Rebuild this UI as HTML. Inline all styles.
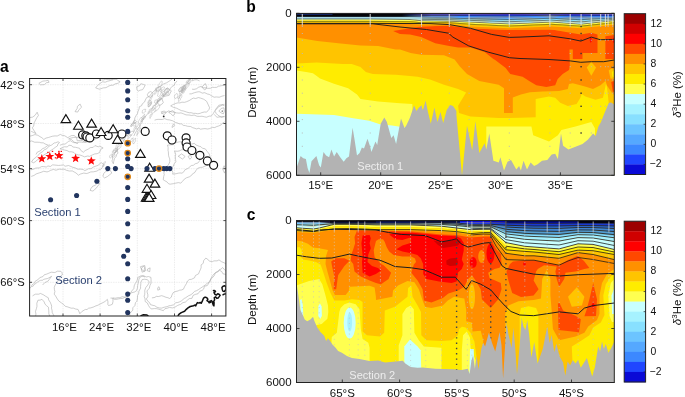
<!DOCTYPE html>
<html><head><meta charset="utf-8"><title>Figure</title>
<style>
html,body{margin:0;padding:0;background:#fff;}
svg{display:block;}
text{font-family:"Liberation Sans",sans-serif;font-size:10.7px;fill:#111;}
.b{font-weight:bold;font-size:15.6px;fill:#000;}
.ax{font-size:11.5px;}
.cbl{font-size:10.4px;}
.nv{fill:#2b4170;}
</style></head><body>
<svg width="685" height="397" viewBox="0 0 685 397">
<rect width="685" height="397" fill="#fff"/>
<clipPath id="ca"><rect x="29.6" y="78.5" width="196.3" height="237.5"/></clipPath>
<g clip-path="url(#ca)">
<line x1="63" x2="63" y1="78.5" y2="316" stroke="#d6d6d6" stroke-width="0.6" stroke-dasharray="0.8,0.9"/>
<line x1="100.1" x2="100.1" y1="78.5" y2="316" stroke="#d6d6d6" stroke-width="0.6" stroke-dasharray="0.8,0.9"/>
<line x1="137.3" x2="137.3" y1="78.5" y2="316" stroke="#d6d6d6" stroke-width="0.6" stroke-dasharray="0.8,0.9"/>
<line x1="174.5" x2="174.5" y1="78.5" y2="316" stroke="#d6d6d6" stroke-width="0.6" stroke-dasharray="0.8,0.9"/>
<line x1="211.6" x2="211.6" y1="78.5" y2="316" stroke="#d6d6d6" stroke-width="0.6" stroke-dasharray="0.8,0.9"/>
<line x1="29.6" x2="225.9" y1="84.7" y2="84.7" stroke="#d6d6d6" stroke-width="0.6" stroke-dasharray="0.8,0.9"/>
<line x1="29.6" x2="225.9" y1="123.5" y2="123.5" stroke="#d6d6d6" stroke-width="0.6" stroke-dasharray="0.8,0.9"/>
<line x1="29.6" x2="225.9" y1="168.7" y2="168.7" stroke="#d6d6d6" stroke-width="0.6" stroke-dasharray="0.8,0.9"/>
<line x1="29.6" x2="225.9" y1="220.6" y2="220.6" stroke="#d6d6d6" stroke-width="0.6" stroke-dasharray="0.8,0.9"/>
<line x1="29.6" x2="225.9" y1="282.3" y2="282.3" stroke="#d6d6d6" stroke-width="0.6" stroke-dasharray="0.8,0.9"/>
<path d="M38.85 83.31 L42.81 81.1 L45.75 80.81 L48.18 80.31 L49.05 82.31 L46.45 82.73 L44.29 84.66 L40.37 84.81 Z" fill="none" stroke="#a6a6a6" stroke-width="0.55" stroke-linejoin="round"/>
<path d="M95.68 87.93 L97.37 85.69 L99.7 83.73 L101.3 82.61 L102.64 81.8 L105.2 82.21 L107.35 81.31 L110.19 80.57 L112.27 79.69 L113.78 79.44 L116.85 79.3 L118.14 80.82 L120.13 81.72 L118.25 83.18 L115.11 83.9 L113.14 85.23 L111.09 85.27 L109.11 85.9 L105.99 87.66 L103.25 87.88 L100.72 88.74 L99.37 89.2 Z" fill="none" stroke="#a6a6a6" stroke-width="0.55" stroke-linejoin="round"/>
<path d="M101.33 80.04 L103.41 79.97 L105.58 79.31 L108.28 79.52 L110.41 79.63 L113.1 79.9" fill="none" stroke="#a6a6a6" stroke-width="0.55" stroke-linejoin="round"/>
<path d="M29.68 117.58 L32.71 117.09 L35.15 115.2 L37.14 112.24 L38.43 115.45 L36.89 117.61 L34.98 121.18 L34.18 122.81 L33.65 126.05 L32.31 127.83 L34.32 131.04 L36.05 133.61 L33.09 132.13 L31.2 131.4" fill="none" stroke="#a6a6a6" stroke-width="0.55" stroke-linejoin="round"/>
<path d="M75 111.64 L77.19 108.41 L77.45 106.32 L80.13 104.08 L81.52 107.27 L78.96 109.69 L77.72 112.09 Z" fill="none" stroke="#a6a6a6" stroke-width="0.55" stroke-linejoin="round"/>
<path d="M30.03 136.07 L32.06 135.66 L34.91 134.58 L37.86 135.29 L40.19 136.78 L41.88 137.69 L43.84 139.49 L45.99 138.04 L48.39 137.53 L50.78 136.72 L52.5 136.21 L54.98 135.91 L57.2 136.02 L60.36 134.41 L62.22 135.39 L64.74 135.77 L67.79 137.69 L69.59 136.58 L71.39 135.64 L74.08 135.47 L76.56 137.53 L77.23 140.83 L80.27 140.31 L82.63 140.74 L84.94 142.67 L88.06 141.6 L89.87 140.46 L92.38 140.36 L95.5 139.3" fill="none" stroke="#a6a6a6" stroke-width="0.55" stroke-linejoin="round"/>
<path d="M29.45 141.49 L31.59 140.94 L34.69 142.23 L37.17 142.2 L39.55 142.34 L40.92 142.77 L43.3 142.84 L45.04 143.94 L47.9 145" fill="none" stroke="#a6a6a6" stroke-width="0.55" stroke-linejoin="round"/>
<path d="M59.86 145.27 L62.96 144.15 L65.05 144.12 L67.2 142.47 L68.29 141.5 L70.38 140.69 L73.34 142.53 L76.01 142.8 L77.9 143.7" fill="none" stroke="#a6a6a6" stroke-width="0.55" stroke-linejoin="round"/>
<path d="M138.94 124.96 L139.79 124.97 L139.7 126.59 L139.3 127.3 L138.48 128.13 L137.46 129.07 L137.07 128.78 L136.52 128.84 L135.91 128.9 L136.1 127.47 L136.54 127.19 L137.44 125.86 L138.5 124.84 L139.11 124.35 Z" fill="none" stroke="#adadad" stroke-width="0.45"/>
<path d="M160.91 89 L161.8 88.93 L161.59 90.51 L161.2 92.34 L160.53 94.31 L159.9 95.67 L159.03 96.49 L158.38 96.5 L157.35 95.81 L157.93 94.55 L158.09 92.7 L158.53 91.01 L159.73 89.51 L160.12 88.97 Z" fill="none" stroke="#adadad" stroke-width="0.45"/>
<path d="M167.76 91.95 L168.84 92.1 L168.46 93.29 L168.38 94.07 L168.22 94.55 L167.74 94.33 L166.96 94.4 L166.05 95.13 L165.37 94.56 L165.66 93.72 L165.33 92.99 L166.28 91.81 L167.27 91.48 L167.37 91.65 Z" fill="none" stroke="#adadad" stroke-width="0.45"/>
<path d="M152.51 107.82 L152.51 108.87 L151.91 109.8 L151.85 110.49 L150.41 111.77 L149.67 113.03 L148.59 113.85 L148.07 113.09 L148.11 112.71 L148.33 111.66 L149.19 110.63 L149.29 109.72 L151.16 108.68 L151.48 108.31 Z" fill="none" stroke="#adadad" stroke-width="0.45"/>
<path d="M151.19 101.88 L151.55 102.65 L151.14 103.64 L150.95 103.92 L150.41 105.53 L149.38 106.12 L149.17 106.6 L148.33 106.79 L148.57 106.36 L148.75 105.51 L148.68 104.58 L149.84 103.37 L150.01 102.49 L150.64 102.41 Z" fill="none" stroke="#adadad" stroke-width="0.45"/>
<path d="M140.68 127.69 L140.58 128.09 L139.93 129.77 L139.6 130.66 L138.65 132.69 L137.81 133.98 L137.15 134.33 L136.75 135.6 L137.1 134.35 L137.18 133.63 L137.59 131.47 L138.71 130.25 L139.35 128.86 L139.8 128.26 Z" fill="none" stroke="#adadad" stroke-width="0.45"/>
<path d="M134.84 122.45 L135.33 122.46 L135.05 123.16 L133.6 124.04 L132.81 125.05 L131.74 126.46 L130.95 126.65 L130.85 126.44 L130.22 126.22 L131.1 125.09 L131.76 124.03 L132.45 123.48 L133.69 122 L134.88 121.91 Z" fill="none" stroke="#adadad" stroke-width="0.45"/>
<path d="M164.19 94.08 L164.74 94.52 L164.82 94.98 L164.56 95.09 L163.65 96.15 L163.07 96.35 L163.47 96.14 L162.2 96.34 L162 95.62 L162.19 95.16 L162.48 94.26 L162.66 94.04 L163.32 93.93 L164.24 93.41 Z" fill="none" stroke="#adadad" stroke-width="0.45"/>
<path d="M129.7 132.13 L129.88 132.31 L129.55 133.34 L129.2 133.98 L128.43 134.87 L127.29 135.87 L126.57 135.58 L126.02 135.8 L126.39 135.17 L126.22 134.72 L126.71 133.18 L127.2 132.5 L128.59 131.86 L129.49 131.6 Z" fill="none" stroke="#adadad" stroke-width="0.45"/>
<path d="M158.49 100.29 L158.92 100.04 L158.18 101.45 L158.03 101.95 L157.04 104.05 L156.24 104.93 L155.87 105.07 L155.49 104.83 L155.07 104.32 L155.67 103.7 L156.08 102.48 L157.41 101.65 L157.52 101 L158.8 100.22 Z" fill="none" stroke="#adadad" stroke-width="0.45"/>
<path d="M135.77 122.52 L136 123.02 L135.77 123.62 L135.86 124.8 L135.02 125.51 L134.06 126.2 L133.73 125.94 L132.94 125.86 L133 125.45 L132.36 124.71 L133.61 123.82 L133.87 123.02 L134.64 122.22 L135.07 122.37 Z" fill="none" stroke="#adadad" stroke-width="0.45"/>
<path d="M151.17 103.41 L151.54 103.95 L151.24 104.27 L150.37 105.17 L150.02 105.84 L148.97 106.46 L148.54 106.67 L147.98 106.65 L147.82 105.67 L148.07 105.06 L148.68 103.9 L149.23 103.55 L150.16 102.71 L151.08 102.99 Z" fill="none" stroke="#adadad" stroke-width="0.45"/>
<path d="M145.87 109.21 L145.36 110 L145.33 110.74 L145.61 111.53 L144.78 111.88 L144.04 112.46 L143.26 113.18 L142.13 112.97 L142.41 111.96 L142.3 111.7 L142.56 110.35 L143.19 110.05 L143.92 109.3 L145.12 109.36 Z" fill="none" stroke="#adadad" stroke-width="0.45"/>
<path d="M145.18 116.82 L145.4 116.21 L145.47 116.88 L145.22 117.86 L144.36 118.84 L144.07 119.1 L143.26 119.61 L143.26 118.95 L142.53 118.68 L142.74 118.24 L143.41 117.53 L143.56 116.79 L144.44 116.44 L144.83 116.69 Z" fill="none" stroke="#adadad" stroke-width="0.45"/>
<path d="M152.79 95.31 L152.78 95.98 L152.14 97.1 L151.12 98.83 L150.87 100.26 L149.82 101.85 L148.66 102.77 L148.59 103.19 L148.16 102.85 L148.8 101.61 L149.32 99.81 L150.41 98.17 L151.43 96.34 L152.1 95.27 Z" fill="none" stroke="#adadad" stroke-width="0.45"/>
<path d="M135.6 120.67 L136.37 121.27 L136.66 121.66 L135.91 122.29 L135.28 123.08 L134.88 123.54 L133.81 123.72 L133.51 122.93 L133.65 122.79 L133.45 121.75 L133.58 121.41 L134.37 120.91 L134.72 120.17 L135.63 120.05 Z" fill="none" stroke="#adadad" stroke-width="0.45"/>
<path d="M155.29 105.33 L155.45 105.7 L155.52 106.19 L155.65 107.12 L155.16 107.65 L155.08 107.7 L153.88 108.33 L153.23 107.38 L152.8 107.18 L152.69 106.91 L153.28 105.52 L153.86 105.21 L154.07 105.54 L155.03 105.18 Z" fill="none" stroke="#adadad" stroke-width="0.45"/>
<path d="M161.16 97.74 L161.34 98.44 L160.48 99.5 L159.98 100.49 L159.36 101.36 L158.85 101.51 L157.87 101.9 L157.09 101.62 L157.16 100.67 L157.16 100.48 L157.84 98.95 L158.49 98.5 L159.42 97.68 L159.83 97.95 Z" fill="none" stroke="#adadad" stroke-width="0.45"/>
<path d="M156.92 89.42 L156.84 89.7 L156.78 90.62 L156.5 91.35 L155.98 93.04 L155.69 93.75 L154.77 94.59 L154.28 94.29 L154.49 93.44 L154.4 93.48 L154.9 92.36 L155.22 90.89 L156.1 90.36 L156.81 89.56 Z" fill="none" stroke="#adadad" stroke-width="0.45"/>
<path d="M152.24 113.6 L151.88 114.21 L152.51 114.91 L151.56 115.6 L150.86 117.08 L150.32 117.72 L150.1 118.49 L149.8 117.65 L149.82 117.31 L150.08 116.89 L149.9 115.56 L150.46 115.36 L151.01 113.84 L151.73 114.19 Z" fill="none" stroke="#adadad" stroke-width="0.45"/>
<path d="M133.06 131.81 L133.71 132.04 L133.42 133 L132.47 133.74 L131.74 134.79 L130.79 134.87 L129.98 135.48 L129.74 134.95 L129.28 134.43 L129.42 133.91 L129.77 133.01 L131.21 131.84 L131.41 131.56 L132.95 131.08 Z" fill="none" stroke="#adadad" stroke-width="0.45"/>
<path d="M168.64 88.88 L168.79 89.73 L169.09 89.86 L168.31 91.21 L167.45 92.79 L166.27 93.07 L165.62 93.67 L164.9 92.84 L164.87 92.92 L164.77 91.8 L165.55 90.7 L166.5 89.6 L167.1 88.7 L167.72 88.66 Z" fill="none" stroke="#adadad" stroke-width="0.45"/>
<path d="M157.86 87.12 L158.31 87.98 L159.01 88.4 L159.03 89.31 L158.56 89.61 L157.97 90.32 L157.32 91.04 L156.84 90.45 L155.95 90.28 L155.88 89.48 L155.47 89.01 L155.77 87.93 L156.77 87.63 L157.33 87.56 Z" fill="none" stroke="#adadad" stroke-width="0.45"/>
<path d="M150.39 100.47 L150.82 101.24 L151.65 101.7 L151.54 102.88 L150.82 104.08 L149.7 104.71 L149.37 104.87 L148.39 104.6 L147.77 104.17 L148.06 103.26 L147.96 102.84 L147.95 101.65 L149.11 100.51 L150.05 100.46 Z" fill="none" stroke="#adadad" stroke-width="0.45"/>
<path d="M133.33 137.85 L132.97 138.43 L133.14 139.26 L132.57 140.26 L132.73 140.76 L132.38 141.39 L131.35 141.66 L130.48 142.25 L130.5 141.65 L130.47 140.79 L130.87 139.59 L131.56 139.24 L132 138.02 L132.64 138.29 Z" fill="none" stroke="#adadad" stroke-width="0.45"/>
<path d="M125.49 135.19 L126.26 135.09 L126.54 135.93 L125.74 136.93 L124.82 138.89 L124.43 139.8 L123.7 140.83 L123.01 140.81 L123.08 140.34 L122.82 139.09 L123.1 138.26 L124.07 136.55 L124.98 135.29 L124.97 135.07 Z" fill="none" stroke="#adadad" stroke-width="0.45"/>
<path d="M162.74 95.16 L163.18 96.16 L163.75 96.53 L162.88 97.92 L162.45 98.7 L161.1 99.63 L160.03 100 L159.45 100.37 L159.52 99.05 L159.16 98.48 L159.92 97.48 L160.8 96.45 L161.18 95.6 L162.34 94.95 Z" fill="none" stroke="#adadad" stroke-width="0.45"/>
<path d="M166.98 88.23 L167.1 88.83 L167.56 90.03 L166.79 92.23 L166.11 93.73 L165.76 94.88 L164.37 95.9 L163.83 95.85 L163.74 95.94 L163.39 94.61 L164.45 92.49 L164.54 91.16 L165.18 89.59 L166.53 88.86 Z" fill="none" stroke="#adadad" stroke-width="0.45"/>
<path d="M129.88 132.44 L129.9 132.84 L129.07 133.73 L129.1 133.62 L128.41 135.12 L127.87 135.77 L127.07 136.19 L127.21 135.43 L127.11 135.17 L127.61 134.7 L127.49 134.02 L128.04 133.98 L128.36 133.03 L129.62 132.41 Z" fill="none" stroke="#adadad" stroke-width="0.45"/>
<path d="M135.86 138.33 L135.52 138.64 L135.42 139.68 L135.69 140.92 L134.58 142.25 L134.79 142.75 L133.69 143.18 L133.41 144.07 L133.06 143.45 L132.59 142.5 L133.39 141.45 L133.98 139.73 L134.48 138.94 L135.1 138.29 Z" fill="none" stroke="#adadad" stroke-width="0.45"/>
<path d="M160.74 87.26 L161.05 87.1 L160.42 88.55 L159.96 90.23 L159.13 90.97 L157.37 91.51 L157.27 91.63 L156.6 91.26 L156.07 90.94 L155.91 90.12 L156.65 88.52 L157.87 87.45 L158.96 86.8 L159.83 86.64 Z" fill="none" stroke="#adadad" stroke-width="0.45"/>
<path d="M159.92 105.49 L159.63 105.83 L159.64 107.17 L158.49 108.69 L157.29 110.27 L155.77 110.97 L154.83 111.62 L154.22 111 L153.73 110.69 L153.84 109.65 L155.54 107.82 L156.36 107.04 L158.05 105.81 L158.84 104.94 Z" fill="none" stroke="#adadad" stroke-width="0.45"/>
<path d="M155.38 108.57 L155.83 109.12 L155.77 110.25 L155.55 110.88 L154.08 112.22 L153.5 112.9 L152.18 113.1 L151.74 112.86 L151.39 112.58 L152.08 110.98 L152.62 110.21 L153.53 109.22 L154.09 108.75 L154.88 108.82 Z" fill="none" stroke="#adadad" stroke-width="0.45"/>
<path d="M144.82 114.05 L144.29 115.07 L144.16 115.99 L143.9 117.19 L143 119.43 L142.28 120.67 L141.72 121.56 L140.79 121.79 L141.25 120.95 L140.95 120.52 L142.15 118.5 L142.03 117.15 L143.32 115.45 L144.5 114.27 Z" fill="none" stroke="#adadad" stroke-width="0.45"/>
<path d="M141.5 117.52 L142 117.84 L142.52 118.76 L141.78 120.25 L141.25 121.98 L140.75 122.49 L139.93 123.73 L139.09 123.27 L138.31 123.05 L138.43 121.34 L138.88 120.52 L139.53 119.42 L140.64 117.89 L141 117.26 Z" fill="none" stroke="#adadad" stroke-width="0.45"/>
<path d="M131.26 135.37 L131.47 134.91 L131.29 135.71 L130.1 136.9 L129.37 137.95 L129.01 138.47 L128.28 138.07 L127.75 138.49 L127.47 138.19 L128.05 137.69 L128.41 136.56 L129.25 136.04 L130.18 135.1 L130.91 134.69 Z" fill="none" stroke="#adadad" stroke-width="0.45"/>
<path d="M157.1 99.83 L157.44 100.17 L157.46 101.51 L157.49 101.54 L156.75 102.47 L156.53 102.91 L155.57 103.78 L155.09 102.83 L154.78 102.41 L154.4 102.47 L154.69 101.51 L154.91 100.3 L155.96 100.05 L156.44 99.74 Z" fill="none" stroke="#adadad" stroke-width="0.45"/>
<path d="M163.75 86.88 L164.52 87.25 L164.1 88.62 L163.66 89.05 L162.97 90.08 L161.55 90.71 L160.38 91.76 L160.15 90.95 L159.93 90.68 L160.12 90.04 L160.83 88.64 L161.52 88.09 L162.73 87.3 L163.32 86.92 Z" fill="none" stroke="#adadad" stroke-width="0.45"/>
<path d="M135.82 125.4 L135.93 125.76 L135.9 127.15 L136.06 127.71 L135.08 129.31 L134.25 130.86 L134.25 131.56 L133.82 131.94 L133.48 131.08 L133.87 130.5 L133.95 129.22 L134.35 127.49 L135.34 126.79 L135.91 125.45 Z" fill="none" stroke="#adadad" stroke-width="0.45"/>
<path d="M162.13 81.26 L162.3 81.89 L162.14 83.11 L161.67 84.38 L161.24 85.84 L160.3 86.58 L159.37 87.3 L158.64 87.21 L158.38 86.97 L158 85.84 L158.68 84.81 L159.49 83.36 L160.61 81.98 L161.48 80.9 Z" fill="none" stroke="#adadad" stroke-width="0.45"/>
<path d="M188.62 82.9 L189.07 84.42 L188.81 85.54 L187.35 87.31 L186.25 88.76 L184.82 89.45 L183.56 90.45 L183.47 90.03 L182.77 89.88 L183.01 88.53 L183.55 86.72 L185.37 84.72 L186.71 84.39 L187.93 82.97 Z" fill="none" stroke="#adadad" stroke-width="0.45"/>
<path d="M192.18 77.42 L191.93 77.45 L190.88 78.73 L189.63 80.08 L188.74 81.5 L187.33 82.8 L186.41 82.99 L186.33 82.8 L186.04 82.65 L186.71 81.19 L187.93 79.74 L189.45 79.04 L190.14 78.48 L191.25 77.51 Z" fill="none" stroke="#adadad" stroke-width="0.45"/>
<path d="M177.52 93.92 L177.73 94.09 L177.82 95.54 L177.59 96.09 L177.57 97.34 L176.44 97.84 L175.74 98.21 L175.11 98.87 L174.65 97.77 L174.57 96.96 L174.32 96.4 L174.56 95.42 L175.62 94.8 L176.4 93.45 Z" fill="none" stroke="#adadad" stroke-width="0.45"/>
<path d="M181.91 94.64 L181.81 95.15 L181.84 96.7 L181.12 97.99 L180.56 98.6 L180.27 100.17 L179.4 100.99 L178.44 101.51 L178.49 101.1 L178.42 99.81 L179.41 97.9 L179.82 96.34 L180.56 95.63 L180.99 94.74 Z" fill="none" stroke="#adadad" stroke-width="0.45"/>
<path d="M183.37 87.12 L183.22 87.83 L183.28 89.22 L182.82 89.69 L181.97 90.93 L180.75 91.6 L179.64 91.62 L178.85 91.35 L178.68 91.04 L178.82 89.65 L179.86 88.55 L180.28 87.51 L181.48 86.99 L182.68 86.8 Z" fill="none" stroke="#adadad" stroke-width="0.45"/>
<path d="M190.64 79.49 L190.47 80.38 L190.22 81.06 L189.52 82.61 L187.85 84.37 L186.63 86.1 L185.92 86.13 L185.34 86.55 L185 85.71 L185.74 84.68 L186.49 83.19 L187.82 81.8 L188.98 80.45 L189.28 79.9 Z" fill="none" stroke="#adadad" stroke-width="0.45"/>
<path d="M184.67 88.15 L184.83 88.36 L184.84 89.39 L184.37 90.31 L183.74 91.49 L183.2 92 L182.33 92.01 L181.78 91.55 L181.36 91.54 L181.35 90.61 L182.18 89.37 L182.54 89.16 L183.36 88.37 L184.31 87.84 Z" fill="none" stroke="#adadad" stroke-width="0.45"/>
<path d="M191.64 78.24 L192.31 78.85 L192.61 79.74 L191.5 80.98 L190.61 81.77 L189.47 83.53 L188.6 83.39 L188.36 83.59 L187.65 82.98 L187.63 82.03 L188.68 80.25 L189.83 79.32 L190.24 78.45 L191.53 77.79 Z" fill="none" stroke="#adadad" stroke-width="0.45"/>
<path d="M183.77 85.07 L184.23 85.67 L184.02 87.47 L183.07 88.62 L182.14 90.94 L181.58 92.43 L180.02 93.97 L179.81 94.51 L179.44 93.63 L179.83 92.09 L180.64 90.13 L181.41 88.59 L182.4 86.67 L183.2 85.49 Z" fill="none" stroke="#adadad" stroke-width="0.45"/>
<path d="M185.06 85.62 L185.98 86.12 L185.9 86.58 L185.04 88.55 L184.37 89.26 L183.65 89.92 L182.82 90.66 L181.82 90.45 L181.68 89.41 L181.84 89.16 L182.21 88.19 L183.12 86.38 L184 85.99 L184.86 84.78 Z" fill="none" stroke="#adadad" stroke-width="0.45"/>
<path d="M185 85.78 L184.64 86.57 L185.2 87.04 L184.27 88.34 L184.32 89.97 L183.55 90.88 L182.64 92.57 L182.1 92.54 L182.2 91.42 L181.71 91.05 L182.3 88.93 L182.94 87.85 L183.59 87.09 L183.86 86.28 Z" fill="none" stroke="#adadad" stroke-width="0.45"/>
<path d="M181.89 87.54 L181.95 88.44 L182.08 89.1 L181.85 89.6 L180.86 91.18 L180.16 91.61 L179.85 91.68 L179.21 91.37 L178.74 91.09 L178.92 90.47 L179.13 89.18 L179.69 88.75 L180.63 87.74 L181.56 87.75 Z" fill="none" stroke="#adadad" stroke-width="0.45"/>
<path d="M180.73 94.97 L180.65 94.89 L180.48 95.16 L180.03 96.05 L179.64 97.71 L178.9 97.66 L178.46 98.81 L178.34 98.33 L177.83 98.33 L177.9 97.36 L178.53 96.71 L178.99 95.78 L179.75 95.45 L180.57 94.63 Z" fill="none" stroke="#adadad" stroke-width="0.45"/>
<path d="M186.15 87.39 L185.79 88.35 L185.63 89.3 L185.65 90.21 L184.41 91.43 L183.77 93.07 L182.7 93.36 L181.81 93.36 L181.46 93.07 L181.94 91.94 L182.71 90.13 L183.32 89.39 L184.26 88.42 L185.31 87.85 Z" fill="none" stroke="#adadad" stroke-width="0.45"/>
<path d="M114.51 153.73 L114.59 154.45 L114.73 154.49 L114.97 155.69 L114.66 156.37 L113.64 157.03 L113.11 157.39 L112.88 156.57 L112.19 156.2 L111.78 155.46 L112.01 155.26 L112.4 154.05 L112.6 154.03 L113.35 153.69 Z" fill="none" stroke="#adadad" stroke-width="0.45"/>
<path d="M121.36 142.53 L121.54 143.44 L121.74 143.71 L121.16 145.44 L120.87 147.17 L119.21 148.41 L118.55 149.37 L117.51 149.31 L117.85 148.54 L117.51 147.29 L117.86 145.54 L118.65 144.15 L120.09 143.19 L120.51 142.87 Z" fill="none" stroke="#adadad" stroke-width="0.45"/>
<path d="M116.65 149.61 L117.36 149.55 L116.84 150.44 L116.36 151.69 L115.8 152.18 L114.33 152.49 L114.25 152.07 L113.26 151.77 L113.54 150.87 L113.01 150.75 L113.64 149.61 L114.34 149.12 L115.17 148.6 L116.24 148.53 Z" fill="none" stroke="#adadad" stroke-width="0.45"/>
<path d="M120.33 142.54 L120.68 143.25 L120.39 144.93 L119.5 145.76 L118.8 146.58 L117.48 147.52 L116.65 147.85 L115.84 148.65 L115.66 147.9 L116.25 146.08 L116.02 145.35 L117.32 144.17 L118.98 143.24 L119.36 142.64 Z" fill="none" stroke="#adadad" stroke-width="0.45"/>
<path d="M114.99 150.66 L115.81 150.84 L115.57 151.73 L114.99 152.43 L114.95 152.63 L113.73 152.75 L113.01 153.33 L112.69 153.07 L112.49 152.74 L112.28 151.65 L112.81 151.27 L113.6 150.44 L114.01 150.43 L115.2 149.86 Z" fill="none" stroke="#adadad" stroke-width="0.45"/>
<path d="M124.12 138.57 L124.34 138.78 L124.07 140.37 L123.09 142.1 L121.87 142.82 L120.77 144 L119.61 144.73 L118.56 144.92 L118.7 144.08 L118.92 143 L119.99 141.15 L120.96 139.44 L122.35 138.9 L123.41 138.26 Z" fill="none" stroke="#adadad" stroke-width="0.45"/>
<path d="M105.32 161.6 L105.26 161.7 L105.38 162.44 L104.74 163.46 L104.56 164.69 L104.13 165.81 L102.91 166.28 L102.35 166.87 L102.4 166.07 L102.27 165.68 L103.18 164.91 L103.85 162.78 L104.48 162.01 L104.93 161.54 Z" fill="none" stroke="#adadad" stroke-width="0.45"/>
<path d="M117.59 148.66 L117.15 149.14 L117.54 149.16 L117.45 150.75 L116.76 151.03 L115.88 152.14 L115.69 152.44 L115.53 151.8 L115.3 151.49 L115.27 150.81 L115.1 149.59 L115.35 149.39 L116.27 148.61 L116.97 148.64 Z" fill="none" stroke="#adadad" stroke-width="0.45"/>
<path d="M112.61 154.34 L112.5 155.06 L112.31 155.53 L112.01 156.15 L111.7 156.97 L110.54 157.87 L109.91 157.84 L109.79 157.65 L109.8 156.98 L109.4 156.7 L109.68 155.58 L110.73 154.93 L111.62 154.13 L112.37 154.04 Z" fill="none" stroke="#adadad" stroke-width="0.45"/>
<path d="M131.08 126.56 L131.5 124.22 L133.59 122.19 L134.5 119.65 L134.91 117.85 L135.98 115.8 L137.63 113.26 L137.82 111.86 L139.09 108.86 L139.25 106.78 L141.64 105.74 L142.18 103.94 L144.63 101.91 L145.32 99.96 L146.71 97.49 L149.37 96.43 L150.48 94.95 L152.02 93.05 L154.32 90.8 L155.45 89.45 L157.26 88.35 L159.11 86.7 L161.26 85.83 L163.82 83.82 L166.4 82.89 L169 81.3 L171.9 79.2" fill="none" stroke="#a6a6a6" stroke-width="0.55" stroke-linejoin="round"/>
<path d="M133.8 136.04 L135.01 133.46 L136.09 131.7 L136.74 130.48 L138.13 128.13 L139.97 126.27 L140.65 124.18 L142.09 122.46 L142.71 120.15 L144.04 117.77 L145.83 116.01 L147.05 114.55 L148.95 112.41 L150.08 110.73 L151.43 109.19 L152.84 107.24 L154.5 105.9 L156.39 104 L158.31 101.44 L159.47 100.43 L162.01 97.53 L163.35 95.96 L165.49 93.79 L166.96 92.48 L169.29 90.93 L170.01 88.88 L172.09 86.37 L174.06 85.39 L174.96 83.41 L177 80.9" fill="none" stroke="#a6a6a6" stroke-width="0.55" stroke-linejoin="round"/>
<path d="M136.68 86.78 L139.59 85.7 L140.79 83.72 L143.37 84.36 L145.13 85.08 L144.32 86.92 L142.66 89.63 L139.82 90.25 L138.35 91.21 L136.98 89.58 Z" fill="none" stroke="#a6a6a6" stroke-width="0.55" stroke-linejoin="round"/>
<path d="M147.35 94.67 L148.73 92.37 L150.85 91.53 L153.32 93.66 L151.66 96.39 L150.28 97.41 L148.03 96.4 Z" fill="none" stroke="#a6a6a6" stroke-width="0.55" stroke-linejoin="round"/>
<path d="M157.28 101.64 L158.91 99.42 L161.83 98.41 L163.29 102.63 L162.16 103.91 L159.7 105.43 L158.18 103.64 Z" fill="none" stroke="#a6a6a6" stroke-width="0.55" stroke-linejoin="round"/>
<path d="M161.54 92.41 L163.63 91.65 L165.25 89.22 L167.53 87.89 L169.23 89.29 L171.36 90.84 L170.17 93.12 L169.21 95.25 L166.7 95.86 L164.32 96.42 L162.75 94.22 Z" fill="none" stroke="#a6a6a6" stroke-width="0.55" stroke-linejoin="round"/>
<path d="M170.68 105.86 L172.46 104.8 L175.79 103.39 L178.08 102.82 L179.89 102.93 L181.97 102.16 L184.53 102.35 L186.31 101.8 L189.18 100.6 L191.25 99.28 L193.27 98.06 L195.72 98.52 L198.37 97.56 L200.6 98.11 L203.48 99.14 L204.7 99.86 L206.65 101.35 L207.99 104.23 L209.62 107.75 L208.97 109.46 L206.59 112.16 L204.5 111.98 L201.95 112.56 L200.34 113.25 L197.84 113.81 L195.41 113.34 L193.31 113.33 L191.05 112.7 L189.17 112.78 L186.6 112.04 L183.9 111.09 L181.39 110.62 L178.53 109.22 L176.78 108.28 L173.57 107.42 Z" fill="none" stroke="#a6a6a6" stroke-width="0.55" stroke-linejoin="round"/>
<path d="M161.05 113.5 L164.5 112.52 L166.75 112.01 L168.47 110.93 L171.34 111.8 L174.13 112.29 L176.3 112.87 L178.99 113.16 L181.03 112.89 L183.48 113.81 L186.03 114.9 L189.12 115.03 L191.75 115.47 L194.14 115.03 L197.06 116.3 L199.25 116.42 L201.99 116.23 L204.63 116.83 L206.39 117.22 L209.14 116.15 L211.12 116.07 L212.79 114.36 L214.22 111.82 L216.02 108.84 L218.77 105.29 L221.13 104.75 L224.5 104.3" fill="none" stroke="#a6a6a6" stroke-width="0.55" stroke-linejoin="round"/>
<path d="M154.59 120.17 L156.93 119.44 L158.87 119.37 L162.16 119.51 L164.71 118.65 L167.09 119.61 L169.61 119.94 L172.7 120.79 L175.37 122.42 L176.42 122.58 L179.58 123.91 L181.34 123.8 L183.25 125.33 L185.43 125.62 L187.52 126.28 L190.67 126.53 L192.68 127.71 L194.96 128.32 L196.38 128.93 L198.88 128.25 L200.5 129.19 L203.24 128.76 L205.07 128.61 L207.48 129.01 L209.3 128.7 L212.48 127.39 L214.76 127.56 L216.91 126.5 L218.45 126.07 L221.17 124.87 L222.37 123.25 L224.5 121.9" fill="none" stroke="#a6a6a6" stroke-width="0.55" stroke-linejoin="round"/>
<path d="M192.03 89.16 L194.02 89.38 L196.44 88.77 L198.6 87.24 L201.11 86.43 L203.15 87.7 L205.96 87.87 L207.86 88.35 L210.43 88.26 L212.34 87.31 L214.53 87.44 L216.73 87.32 L218.34 86.26 L222.06 85.6 L224.5 85.3" fill="none" stroke="#a6a6a6" stroke-width="0.55" stroke-linejoin="round"/>
<path d="M189.37 93.91 L191.36 93.84 L194.37 92.71 L196.19 92.21 L198.27 91.77 L199.98 91.87 L202.2 93.14 L204.72 92.69 L207.39 94 L209.31 94.4 L211.46 95.78 L214.11 97.21 L216.42 96.94 L219.25 97.23 L221.9 96.2 L224.5 95.5" fill="none" stroke="#a6a6a6" stroke-width="0.55" stroke-linejoin="round"/>
<path d="M214.2 114.53 L217.05 117.31 L219.11 116.97 L222.63 116.52 L224.5 116.7" fill="none" stroke="#a6a6a6" stroke-width="0.55" stroke-linejoin="round"/>
<path d="M201.8 86.96 L204.09 84.96 L205.23 83.5 L206.78 86.74 L205.99 89.02 L204.45 89.83 Z" fill="none" stroke="#a6a6a6" stroke-width="0.55" stroke-linejoin="round"/>
<path d="M218.84 111.15 L221.27 108.37 L223.9 107.8 L224.37 111.41 L223.39 113.83 L220.97 112.8 Z" fill="none" stroke="#a6a6a6" stroke-width="0.55" stroke-linejoin="round"/>
<path d="M215.23 110.49 L216.83 108.92 L218.43 106.77 L220.28 106.07 L222.25 105.06 L224.5 105.8" fill="none" stroke="#a6a6a6" stroke-width="0.55" stroke-linejoin="round"/>
<path d="M215.15 111.24 L216.28 113.6 L217.67 115.06 L219.1 115.95 L221.76 117.44 L224.5 116.3" fill="none" stroke="#a6a6a6" stroke-width="0.55" stroke-linejoin="round"/>
<path d="M161.13 111.88 L164.53 111 L166.17 112.77 L163.92 114.71 Z" fill="none" stroke="#a6a6a6" stroke-width="0.55" stroke-linejoin="round"/>
<path d="M168.66 112.35 L172.45 110.67 L174.16 111.77 L175.18 112.8 L173.15 115.95 L170.52 113.48 Z" fill="none" stroke="#a6a6a6" stroke-width="0.55" stroke-linejoin="round"/>
<path d="M171.9 127.21 L173.5 123.81 L174.7 125.31 L172.37 127.44 Z" fill="none" stroke="#a6a6a6" stroke-width="0.55" stroke-linejoin="round"/>
<path d="M192.11 80.8 L194.72 79.84 L197.06 79.79 L199.6 80.9" fill="none" stroke="#a6a6a6" stroke-width="0.55" stroke-linejoin="round"/>
<path d="M31.21 169.79 L33.89 169.07 L35.71 168.09 L36.91 167.96 L39.21 167.93 L41.69 166.56 L43.51 166.58 L46.33 167.03 L47.95 165.95 L50.4 166.46 L52.65 164.87 L54.88 165.05 L58.41 165.44 L60.53 165.3 L63.45 164.89 L65.06 166.26 L68.49 165.52 L71.03 166.53 L72.99 167.36 L75.07 167.8 L77.59 169.19 L80.87 169.14 L83.22 169.52 L84.7 170.65 L87.47 169.41 L88.51 168.76 L91.08 168.69 L92.95 167.21 L96.06 166.04 L98.03 165.39 L101.17 162.56 L103.65 164.39 L103.12 166.39 L101.11 169.02 L98.77 169.88 L96.99 171.04 L93.37 171.85 L90.79 171.91 L87.71 173.26 L86.36 173.51 L83.77 173.08 L80.15 174.14 L78.54 175.24 L75.94 172.95 L74.2 171.99 L72.27 170.91 L69.47 171.03 L66.88 170.43 L63.95 169.16 L61.07 169.37 L59.24 169.13 L55.94 170.23 L53.53 169.43 L50.75 170.27 L48.7 171.41 L47.02 171.96 L43.69 171.24 L40.99 172.36 L39.39 172.83 L36.09 173.95 L34 175.48 L31.2 176.4" fill="none" stroke="#a6a6a6" stroke-width="0.55" stroke-linejoin="round"/>
<path d="M31.55 161.89 L33.46 159.1 L35.74 157.58 L37.39 155.92 L39.41 154.15 L40.5 152.69 L42.14 152.06 L44.51 149.76 L46.59 148.92 L49.08 146.09 L51.83 144.91 L54.15 142.98 L55.5 142.81 L58.08 141.78 L59.56 142.61 L57.93 143.93 L57.4 145.95 L55.6 147.12 L53.74 148.55 L51.11 150.34 L50.3 150.72 L48.03 152.77 L45.17 154.18 L42.73 155.72 L40.56 158.04 L39.34 158.81 L36.67 160.31 L35.82 161.43 L33.54 162.78 Z" fill="none" stroke="#a6a6a6" stroke-width="0.55" stroke-linejoin="round"/>
<path d="M36.01 154.47 L37.32 152.08 L40.12 150.94 L42.79 148.53 L44.5 147.91 L47.21 145.86 L49.7 144.7" fill="none" stroke="#a6a6a6" stroke-width="0.55" stroke-linejoin="round"/>
<path d="M59.93 148.83 L62.16 147.64 L64.45 146.78 L67.38 146.95 L68.91 145.18 L71.62 145.61 L72.81 147.01 L75.59 147.32 L77.77 147.84 L79.58 148.29 L80.69 150.31 L83.3 152.27 L85.17 150.57 L88.22 149.11 L90.27 147.63 L93.16 147.36 L94.95 145.59 L98.26 146.82 L99.74 146.21 L103.12 147.97 L100.73 149.32 L99.6 152.44 L97.23 153.67 L94.79 153.92 L92.4 154.91 L89.5 156.35 L87.73 155.99 L84.51 156.86 L82.59 155.97 L79.71 154.91 L78.21 154.96 L75.06 153.81 L73.86 152.4 L71.77 151.84 L69.24 151.77 L67.05 150.55 L64.54 150.07 L62.32 149.3 Z" fill="none" stroke="#a6a6a6" stroke-width="0.55" stroke-linejoin="round"/>
<path d="M90.13 190.41 L90.83 188.67 L92.79 186.13 L95.37 185.39 L97.14 183.05 L99.86 183.45 L97.63 186.25 L95.83 188.62 L94.61 189.56 L92.99 191.12 Z" fill="none" stroke="#a6a6a6" stroke-width="0.55" stroke-linejoin="round"/>
<path d="M102.83 176.29 L103.87 173.33 L105.21 171.83 L109.83 169.69 L111.8 173.09 L109.87 174.59 L107.37 176.57 L104.59 177.94 Z" fill="none" stroke="#a6a6a6" stroke-width="0.55" stroke-linejoin="round"/>
<path d="M111.88 160.93 L112.6 159.67 L112.49 156.52 L114.36 153.92 L115.86 151.88 L117.04 149.5 L118 153.19 L116.66 154.33 L116.14 156.48 L114.55 158.35 L113.68 161.61 L113.35 163.75 Z" fill="none" stroke="#a6a6a6" stroke-width="0.55" stroke-linejoin="round"/>
<path d="M68.64 138.9 L70.76 138.12 L73.69 137.45 L76.22 137.3 L78.01 137.34 L79.55 138.14 L82.48 137.95 L84.92 138.42 L87.39 139.51 L84.7 141.52 L83.02 142.45 L81.24 142.04 L79.15 142.11 L76.69 142.9 L74.42 142.23 L71.44 139.55 Z" fill="none" stroke="#a6a6a6" stroke-width="0.55" stroke-linejoin="round"/>
<path d="M167.45 145.11 L170.74 144.79 L173.08 144.71 L175.02 143.06 L178.23 142.05 L179.8 141.8 L182.3 142.1 L184.81 142.72 L187.67 142.49 L190.07 143.16 L191.74 144.11 L194.24 143.31 L196.15 145.05 L199.36 146.32 L200.82 146.65 L202.4 148.24 L205.29 148.89 L207.14 151.35 L209.28 154.09 L210.05 156.66 L209.34 158.37 L209.42 160.18 L208.51 163.17 L208.02 165.07 L207.2 165.2 L204.04 166.55 L202.35 167.3 L200.66 167.34 L197.83 168.22 L195.72 170.8 L195 172.3 L192.16 174.23 L191.44 175.45 L189.32 176.85 L186.48 177.79 L184.37 179.11 L182.39 181.53 L180.77 183.08 L178.32 182.61 L175.62 183.19 L173.46 183.65 L170.25 184.16 L168.75 183.9 L166.9 181.89 L164.3 180.46 L163.24 179.72 L163.67 176.63 L164.28 174.41 L163.81 173 L164.78 170.47 L166.16 168.67 L167.21 166.28 L168.85 164.1 L169.81 161.71 L169.74 158.87 L168.98 157.06 L168.54 155.2 L168.37 151.71 L168.06 150.71 L168.14 147.36 Z" fill="none" stroke="#a6a6a6" stroke-width="0.55" stroke-linejoin="round"/>
<path d="M174.54 151.06 L177.67 151.24 L179.88 150.73 L181.19 149.88 L183.81 149.54 L187.1 150.1 L188.69 150.51 L192.53 151.07 L194.05 150.49 L195.81 151.77 L198.59 154.39 L200.04 155.93 L201.78 156.7 L199.87 158.5 L199.63 160.72 L197.85 163.09 L195.23 163.73 L193.4 165.25 L191.32 165.57 L189.95 166.71 L188.02 168.42 L185.09 169.68 L183.89 171.73 L181.99 173.19 L180.05 172.93 L178.31 173.18 L176.05 173.71 L172.7 174.18 L172.92 172.22 L171.01 168.49 L173.15 166.55 L174.19 163.76 L175.89 161.86 L175.54 159.6 L175.35 156.15 L175.7 154.12 Z" fill="none" stroke="#a6a6a6" stroke-width="0.55" stroke-linejoin="round"/>
<path d="M178.15 156.29 L181.61 153.9 L185.18 156.5 L182.38 159.1 L180.31 157.55 Z" fill="none" stroke="#a6a6a6" stroke-width="0.55" stroke-linejoin="round"/>
<path d="M188.05 156.42 L190.74 155.14 L191.49 157.57 L189.86 159.3 Z" fill="none" stroke="#a6a6a6" stroke-width="0.55" stroke-linejoin="round"/>
<path d="M222.63 169.04 L224.13 165.75 L225.84 169.76 L224.55 173.1 L223.29 170.46 Z" fill="none" stroke="#a6a6a6" stroke-width="0.55" stroke-linejoin="round"/>
<path d="M28.92 288.98 L31.18 287.06 L32.04 284.86 L34.43 283.29 L35.08 281.35 L38.47 279.27 L39.83 277.59 L42.88 276.58 L44.32 274.74 L46.65 274.11 L49.23 273 L51.16 272.16 L54.27 272.5 L55.24 272.4 L57.44 271.16 L60.88 271.31 L61.88 272.56 L62.47 274.59 L60.88 275.76 L59.81 277.28 L58.36 280.11 L57.02 282.35 L55.19 284.95 L54.27 287.35 L54.42 289.74 L54.9 291.5 L54.2 294.15 L55.46 295.75 L57.34 299 L58.88 301.08 L61.33 302.82 L63.36 304.27 L65.24 306.28 L67.59 306.89 L71.2 308.2 L73.35 308.12 L75.43 308.97 L78.07 309.47 L79.85 313.7 L81.81 311.57 L85.29 309.44 L87.01 309.56 L88.49 308.26 L90.79 307.89 L94 306.83 L94.94 306.2 L97.89 305.24 L100.18 303.96 L102.96 302.63 L105.02 301.48 L107.39 299.36 L107.95 301.8 L107.87 304.44 L108.5 305.48 L110.58 305.06 L112.42 304.19 L112.99 301.53 L112.89 297.87 L115.08 298.24 L118.45 297.64 L119.81 297.72 L122.38 296.6 L124.35 297.09 L127.63 296.59 L128.92 294.42 L130.35 292.92 L132.29 290.39 L133.83 288.59 L134.22 285.81 L135.22 283.53 L136.5 281.8 L137.41 279.62 L137.63 277.55 L141.2 275.66 L145 277" fill="none" stroke="#a6a6a6" stroke-width="0.55" stroke-linejoin="round"/>
<path d="M32.2 287.01 L34.36 284.58 L36.16 283.14 L38.1 281.59 L40.49 280.34 L42.93 280.16 L43.78 279.26 L47.3 278.6 L48.56 278.06 L51.59 276.32 L48.97 279.83 L48.12 281.05 L44.69 282.7 L42.6 285" fill="none" stroke="#a6a6a6" stroke-width="0.55" stroke-linejoin="round"/>
<path d="M32.53 295.89 L35.35 294.15 L38.8 294.18 L40.44 293.45 L43.39 294.76 L45.8 296.38 L48.3 297.77 L48.64 299.9 L50.28 302.31 L51.31 304.84 L51.7 306.17 L51.48 308.2 L52.07 310.28 L52.25 312.6 L54.1 316.1" fill="none" stroke="#a6a6a6" stroke-width="0.55" stroke-linejoin="round"/>
<path d="M35.59 316.1 L35.94 314.06 L35.48 311.48 L36.41 308.54 L36.96 306.38 L36.84 303.24 L37.94 300.21 L40.14 300.14 L41.94 299.25 L44.18 301.9 L45.01 304.17 L46.59 305.68 L48.46 307.25 L48.81 310.81 L48.87 313.87 L49.7 316.1" fill="none" stroke="#a6a6a6" stroke-width="0.55" stroke-linejoin="round"/>
<path d="M141.11 269.06 L143.44 265.98 L144.6 267.21 L144.34 269.58 L144.36 271.41 Z" fill="none" stroke="#a6a6a6" stroke-width="0.55" stroke-linejoin="round"/>
<path d="M110.46 298.07 L112.21 298.11 L114.41 299.31 L116.82 299.28 L118.56 298.84 L120.72 298.55 L123.39 298.15 L124.76 297.39 L128.14 296.46 L129.17 294.57 L131.31 292.87 L134.79 291.9 L136.62 290.6 L137.51 287.9 L137.64 285.46 L138.29 282.95 L138.81 279.96 L139.33 277.84 L141.67 276.44 L143.05 275.45 L146.22 276.98 L148.38 276.52 L150.95 277.4 L151.04 279.76 L151.12 283.09 L149.98 285.44 L149.27 288.47 L147.28 290.29 L147.03 291.89 L147.88 294.76 L147.81 296.8 L146.32 298.94 L148.3 301.75 L150.01 303.13 L150.38 304.64 L153.07 305.4 L154.75 305.72 L156.91 307.26 L159.4 307.95 L161.69 308.12 L164.08 307.22 L167.11 306.64 L169.33 305.66 L170.57 305.58 L173.7 304.8 L175.84 302.68 L177.82 302.51 L179.7 301.79 L181.54 300.79 L184.3 298.42 L185.44 297.89 L188.68 295.67 L190.1 295.16 L192.01 293.93 L194.58 291.38 L196.53 290.7 L198.75 289.45 L200.46 288.22 L202.89 286.6 L205.38 284.89 L206.79 283.63 L209.32 281.85 L210.54 279.38 L211.58 278.56 L214.23 275.71 L215.46 272.75 L218.14 271.74 L219.39 269.68 L220.92 269.17 L222.63 267.56 L224.44 269.65 L225.8 270.9" fill="none" stroke="#a6a6a6" stroke-width="0.55" stroke-linejoin="round"/>
<path d="M129.83 315.8 L129.7 313.58 L131.29 311.85 L132.84 310.09 L132.76 307.82 L134.84 305.69 L135.5 302.67 L136.89 301.23 L137.38 298.92 L137.63 295.3 L138.64 293.84 L138.86 291.31 L140.6 288.13 L140.57 286.55 L140.8 283.69 L140.93 282.25 L142.11 279.64 L144.62 279.23 L147.53 279.73 L149.21 281.96 L148.66 283.63 L147.12 285.93 L145.74 287.57 L144.75 290.48 L144.81 292.52 L144.66 294.67 L144.11 296.24 L145.1 298.92 L145.15 301.49 L147.4 303.02 L148.44 305.48 L149.63 307.23 L151.16 308.94 L154.55 308.58 L156.34 308.62 L158.86 309.2 L161.31 310.02 L163.35 310.65 L164.91 308.7 L167.18 308.25 L169.37 307.42 L172.38 307.92 L174.59 307.38 L177.57 305.49 L179.19 304.79 L180.57 304.41 L182.81 302.69 L185.4 302.07 L187.49 300.12 L189.23 298.62 L192 298.31 L193.01 295.49 L195.11 294.44 L198.06 293.73 L200.02 291.05 L202 290.49 L203.58 289.13 L204.53 286.2 L207.28 285.57 L208.95 282.92 L210.15 281.36 L210.8 278.55 L212.33 276.07 L213.97 273.94 L216.28 272.15 L219.55 270.22 L221.77 271.64 L222.98 273.83 L225.8 274.4" fill="none" stroke="#a6a6a6" stroke-width="0.55" stroke-linejoin="round"/>
<path d="M151.91 297.91 L155.01 297.39 L156.2 296.33 L158.34 296.55 L161.58 295.68 L163.23 296.18 L165.95 297.27 L167.88 297.7 L169.51 298.48 L171.37 297.11 L171.74 295.49 L173.07 292.78 L175.04 291.7 L178.12 290.91 L179.29 290.25 L181.63 289.94 L183.46 289.17 L184.55 286.69 L186.57 283.36 L187.47 281.1 L189.28 279.58 L191.55 279.29 L194.56 277.8 L195.42 275.51 L198.65 273.78 L199.29 271.91 L200.52 269.32 L201.15 267.58 L201.1 264.9 L203.27 263.27 L203.56 260.78 L205.78 258.11 L207.63 259.16 L209.42 261.21 L212.5 261.58 L213.98 260.86 L217.09 260.86 L218.98 259.89 L221.62 261.76 L224.07 262.75 L225.8 263.8" fill="none" stroke="#a6a6a6" stroke-width="0.55" stroke-linejoin="round"/>
<path d="M140.38 266.69 L144.73 265.47 L145.11 267.63 L145.63 270.67 L142.18 272.21 L141.24 268.82 Z" fill="none" stroke="#a6a6a6" stroke-width="0.55" stroke-linejoin="round"/>
<path d="M147.57 269.07 L150.12 267.87 L149.76 271.66 L147.21 270.73 Z" fill="none" stroke="#a6a6a6" stroke-width="0.55" stroke-linejoin="round"/>
<path d="M157.72 287.73 L159.01 286.73 L159.92 289.42 L157.77 290.2 Z" fill="none" stroke="#a6a6a6" stroke-width="0.55" stroke-linejoin="round"/>
<polyline points="177.8,315.9 179.1,314.2 181.3,312.6 184.6,311.3 186.3,309.3 188,307.9 190.2,306.5 193.5,305.7 195.2,305 195.7,305.9 196.4,304.3 197.4,302.6 199,303.1 200.2,302.4 201.3,303.3 202.4,300.9 203.5,298.2 205.1,297.1 206.8,297.7 207.9,299.1 207,300.6 208.5,301.7 209.2,302.8 210.7,302.4 209.9,301.1 211.5,300.6 212.3,301.7 213.2,305 213.9,305.9 214.1,302.6 213.7,301.3 214.6,299.8 214.3,297.6 215.7,296.8 216.8,298.4 218.1,298 219.2,296.6 220.1,295.4 219,294.3 217.7,293.7 216.3,295.1 215,294.4 214,292.6 215.5,291.7 214.6,290.4" fill="none" stroke="#111" stroke-width="1.5" stroke-linejoin="round" />
<polyline points="222.3,289.5 221.9,287.5 223,286.2 224.8,285.8 225.9,286.6 225.9,289.5 224.3,291.5 222.8,291.1 222.3,289.5" fill="none" stroke="#111" stroke-width="1.4" stroke-linejoin="round" />
<polyline points="222.5,295.1 224.1,294.2 225.9,293.7" fill="none" stroke="#111" stroke-width="1.4" stroke-linejoin="round" />
<polyline points="212.9,291 214,290.2 215,291.1" fill="none" stroke="#111" stroke-width="1.2" stroke-linejoin="round" />
<polyline points="140.5,316 143,314.8 147,315 148.5,316.2" fill="none" stroke="#111" stroke-width="1.4" stroke-linejoin="round" />
<circle cx="82.6" cy="134.9" r="4.0" fill="#fff" stroke="#111" stroke-width="1.2"/>
<circle cx="85.8" cy="135.8" r="4.0" fill="#fff" stroke="#111" stroke-width="1.2"/>
<circle cx="87" cy="137" r="4.0" fill="#fff" stroke="#111" stroke-width="1.2"/>
<circle cx="89.8" cy="137.9" r="4.0" fill="#fff" stroke="#111" stroke-width="1.2"/>
<circle cx="96.4" cy="134" r="4.0" fill="#fff" stroke="#111" stroke-width="1.2"/>
<circle cx="108.2" cy="135.4" r="4.0" fill="#fff" stroke="#111" stroke-width="1.2"/>
<circle cx="121.9" cy="134" r="4.0" fill="#fff" stroke="#111" stroke-width="1.2"/>
<polygon points="65.9,114.6 61.1,122.6 70.7,122.6" fill="#fff" stroke="#111" stroke-width="1.15" stroke-linejoin="miter"/>
<polygon points="78.4,121.2 73.6,129.2 83.2,129.2" fill="#fff" stroke="#111" stroke-width="1.15" stroke-linejoin="miter"/>
<polygon points="91.6,119.1 86.8,127.1 96.4,127.1" fill="#fff" stroke="#111" stroke-width="1.15" stroke-linejoin="miter"/>
<polygon points="101.1,127.5 96.3,135.5 105.9,135.5" fill="#fff" stroke="#111" stroke-width="1.15" stroke-linejoin="miter"/>
<polygon points="113.1,124.7 108.3,132.7 117.9,132.7" fill="#fff" stroke="#111" stroke-width="1.15" stroke-linejoin="miter"/>
<polygon points="117.5,135.3 112.7,143.3 122.3,143.3" fill="#fff" stroke="#111" stroke-width="1.15" stroke-linejoin="miter"/>
<circle cx="145.2" cy="131.4" r="4.0" fill="#fff" stroke="#111" stroke-width="1.2"/>
<circle cx="167.3" cy="135.8" r="4.0" fill="#fff" stroke="#111" stroke-width="1.2"/>
<circle cx="172" cy="140" r="4.0" fill="#fff" stroke="#111" stroke-width="1.2"/>
<circle cx="186.1" cy="137.8" r="4.0" fill="#fff" stroke="#111" stroke-width="1.2"/>
<circle cx="186.1" cy="142.9" r="4.0" fill="#fff" stroke="#111" stroke-width="1.2"/>
<circle cx="187" cy="147" r="4.0" fill="#fff" stroke="#111" stroke-width="1.2"/>
<circle cx="191.9" cy="150.5" r="4.0" fill="#fff" stroke="#111" stroke-width="1.2"/>
<circle cx="199.9" cy="155.3" r="4.0" fill="#fff" stroke="#111" stroke-width="1.2"/>
<circle cx="207.4" cy="160.9" r="4.0" fill="#fff" stroke="#111" stroke-width="1.2"/>
<circle cx="213.6" cy="165.3" r="4.0" fill="#fff" stroke="#111" stroke-width="1.2"/>
<polygon points="149.6,163.2 144.8,171.2 154.4,171.2" fill="#fff" stroke="#111" stroke-width="1.15" stroke-linejoin="miter"/>
<circle cx="127.7" cy="82.4" r="2.55" fill="#22355f"/>
<circle cx="127.7" cy="90.9" r="2.55" fill="#22355f"/>
<circle cx="127.7" cy="99.7" r="2.55" fill="#22355f"/>
<circle cx="127.7" cy="110.8" r="2.55" fill="#22355f"/>
<circle cx="127.7" cy="117.3" r="2.55" fill="#22355f"/>
<circle cx="127.7" cy="131.4" r="2.55" fill="#22355f"/>
<circle cx="127.7" cy="158.8" r="2.55" fill="#22355f"/>
<circle cx="127.7" cy="166.4" r="2.55" fill="#22355f"/>
<circle cx="127.7" cy="187.5" r="2.55" fill="#22355f"/>
<circle cx="127.7" cy="199.4" r="2.55" fill="#22355f"/>
<circle cx="127.7" cy="211.4" r="2.55" fill="#22355f"/>
<circle cx="127.7" cy="223.7" r="2.55" fill="#22355f"/>
<circle cx="127.7" cy="236.8" r="2.55" fill="#22355f"/>
<circle cx="127.7" cy="250.2" r="2.55" fill="#22355f"/>
<circle cx="127.7" cy="263.8" r="2.55" fill="#22355f"/>
<circle cx="127.7" cy="278.8" r="2.55" fill="#22355f"/>
<circle cx="127.7" cy="294.1" r="2.55" fill="#22355f"/>
<circle cx="127.7" cy="300.3" r="2.55" fill="#22355f"/>
<circle cx="127.7" cy="312.6" r="2.55" fill="#22355f"/>
<circle cx="123.7" cy="256.3" r="2.55" fill="#22355f"/>
<circle cx="127.7" cy="143.2" r="2.7" fill="#22355f" stroke="#e08a1c" stroke-width="1.3"/>
<circle cx="127.7" cy="153.1" r="2.7" fill="#22355f" stroke="#e08a1c" stroke-width="1.3"/>
<circle cx="127.7" cy="176.8" r="2.7" fill="#22355f" stroke="#e08a1c" stroke-width="1.3"/>
<circle cx="107.8" cy="168.6" r="2.55" fill="#22355f"/>
<circle cx="115.4" cy="168.6" r="2.55" fill="#22355f"/>
<circle cx="131.1" cy="168.6" r="2.55" fill="#22355f"/>
<circle cx="96.9" cy="181.2" r="2.55" fill="#22355f"/>
<circle cx="76.6" cy="195.5" r="2.55" fill="#22355f"/>
<circle cx="50.6" cy="199.8" r="2.55" fill="#22355f"/>
<circle cx="147" cy="168.6" r="2.55" fill="#22355f"/>
<circle cx="154.9" cy="168.6" r="2.55" fill="#22355f"/>
<circle cx="163.7" cy="168.6" r="2.55" fill="#22355f"/>
<circle cx="166.6" cy="168.6" r="2.55" fill="#22355f"/>
<circle cx="169.9" cy="168.6" r="2.55" fill="#22355f"/>
<circle cx="159" cy="168.6" r="2.7" fill="#22355f" stroke="#e08a1c" stroke-width="1.3"/>
<polygon points="140.4,149.4 135.6,157.4 145.2,157.4" fill="#fff" stroke="#111" stroke-width="1.15" stroke-linejoin="miter"/>
<polygon points="149.1,174.1 144.3,182.1 153.9,182.1" fill="#fff" stroke="#111" stroke-width="1.15" stroke-linejoin="miter"/>
<polygon points="154.9,179.1 150.1,187.1 159.7,187.1" fill="#fff" stroke="#111" stroke-width="1.15" stroke-linejoin="miter"/>
<polygon points="147,184.3 142.2,192.3 151.8,192.3" fill="#fff" stroke="#111" stroke-width="1.15" stroke-linejoin="miter"/>
<polygon points="151.1,190.5 146.3,198.5 155.9,198.5" fill="#fff" stroke="#111" stroke-width="1.15" stroke-linejoin="miter"/>
<polygon points="146.1,193.1 141.3,201.1 150.9,201.1" fill="#fff" stroke="#111" stroke-width="1.15" stroke-linejoin="miter"/>
<polygon points="147.2,193.3 142.4,201.3 152,201.3" fill="#fff" stroke="#111" stroke-width="1.15" stroke-linejoin="miter"/>
<polygon points="148.4,193.2 143.6,201.2 153.2,201.2" fill="#fff" stroke="#111" stroke-width="1.15" stroke-linejoin="miter"/>
<polygon points="149.2,193.4 144.4,201.4 154,201.4" fill="#fff" stroke="#111" stroke-width="1.15" stroke-linejoin="miter"/>
<polygon points="41.8,154.1 42.98,157.18 46.27,157.35 43.7,159.42 44.56,162.6 41.8,160.8 39.04,162.6 39.9,159.42 37.33,157.35 40.62,157.18" fill="#ff0a0a" />
<polygon points="49.8,151.8 50.98,154.88 54.27,155.05 51.7,157.12 52.56,160.3 49.8,158.5 47.04,160.3 47.9,157.12 45.33,155.05 48.62,154.88" fill="#ff0a0a" />
<polygon points="59,150.9 60.18,153.98 63.47,154.15 60.9,156.22 61.76,159.4 59,157.6 56.24,159.4 57.1,156.22 54.53,154.15 57.82,153.98" fill="#ff0a0a" />
<polygon points="75.6,153.7 76.78,156.78 80.07,156.95 77.5,159.02 78.36,162.2 75.6,160.4 72.84,162.2 73.7,159.02 71.13,156.95 74.42,156.78" fill="#ff0a0a" />
<polygon points="91.3,156.2 92.48,159.28 95.77,159.45 93.2,161.52 94.06,164.7 91.3,162.9 88.54,164.7 89.4,161.52 86.83,159.45 90.12,159.28" fill="#ff0a0a" />
<rect x="47.2" y="151.8" width="1.4" height="1.2" fill="#f01414"/>
<rect x="51.8" y="150.8" width="1.4" height="1.2" fill="#f01414"/>
<rect x="54.8" y="153" width="1.4" height="1.2" fill="#f01414"/>
<rect x="58.2" y="150.8" width="1.4" height="1.2" fill="#f01414"/>
<rect x="60.6" y="150.8" width="1.4" height="1.2" fill="#f01414"/>
<rect x="54.8" y="157.2" width="1.4" height="1.2" fill="#f01414"/>
<rect x="61.2" y="157.2" width="1.4" height="1.2" fill="#f01414"/>
<circle cx="163.7" cy="116.4" r="0.9" fill="#222"/>
<circle cx="222.2" cy="111.1" r="0.6" fill="#222"/>
<text class="nv" x="34.2" y="215.8" style="font-size:11.2px">Section 1</text>
<text class="nv" x="55.3" y="284.1" style="font-size:11.2px">Section 2</text>
</g>
<rect x="29.6" y="78.5" width="196.3" height="237.5" fill="none" stroke="#222" stroke-width="1"/>
<line x1="63" x2="63" y1="316" y2="313.5" stroke="#222" stroke-width="0.8"/>
<line x1="63" x2="63" y1="78.5" y2="81" stroke="#222" stroke-width="0.8"/>
<text x="64.5" y="331.2" text-anchor="middle" class="ax">16°E</text>
<line x1="100.1" x2="100.1" y1="316" y2="313.5" stroke="#222" stroke-width="0.8"/>
<line x1="100.1" x2="100.1" y1="78.5" y2="81" stroke="#222" stroke-width="0.8"/>
<text x="101.6" y="331.2" text-anchor="middle" class="ax">24°E</text>
<line x1="137.3" x2="137.3" y1="316" y2="313.5" stroke="#222" stroke-width="0.8"/>
<line x1="137.3" x2="137.3" y1="78.5" y2="81" stroke="#222" stroke-width="0.8"/>
<text x="138.8" y="331.2" text-anchor="middle" class="ax">32°E</text>
<line x1="174.5" x2="174.5" y1="316" y2="313.5" stroke="#222" stroke-width="0.8"/>
<line x1="174.5" x2="174.5" y1="78.5" y2="81" stroke="#222" stroke-width="0.8"/>
<text x="176" y="331.2" text-anchor="middle" class="ax">40°E</text>
<line x1="211.6" x2="211.6" y1="316" y2="313.5" stroke="#222" stroke-width="0.8"/>
<line x1="211.6" x2="211.6" y1="78.5" y2="81" stroke="#222" stroke-width="0.8"/>
<text x="213.1" y="331.2" text-anchor="middle" class="ax">48°E</text>
<line x1="29.6" x2="32.1" y1="84.7" y2="84.7" stroke="#222" stroke-width="0.8"/>
<line x1="225.9" x2="223.4" y1="84.7" y2="84.7" stroke="#222" stroke-width="0.8"/>
<text x="24.7" y="88.7" text-anchor="end" class="ax" style="font-size:11.2px">42°S</text>
<line x1="29.6" x2="32.1" y1="123.5" y2="123.5" stroke="#222" stroke-width="0.8"/>
<line x1="225.9" x2="223.4" y1="123.5" y2="123.5" stroke="#222" stroke-width="0.8"/>
<text x="24.7" y="127.5" text-anchor="end" class="ax" style="font-size:11.2px">48°S</text>
<line x1="29.6" x2="32.1" y1="168.7" y2="168.7" stroke="#222" stroke-width="0.8"/>
<line x1="225.9" x2="223.4" y1="168.7" y2="168.7" stroke="#222" stroke-width="0.8"/>
<text x="24.7" y="172.7" text-anchor="end" class="ax" style="font-size:11.2px">54°S</text>
<line x1="29.6" x2="32.1" y1="220.6" y2="220.6" stroke="#222" stroke-width="0.8"/>
<line x1="225.9" x2="223.4" y1="220.6" y2="220.6" stroke="#222" stroke-width="0.8"/>
<text x="24.7" y="224.6" text-anchor="end" class="ax" style="font-size:11.2px">60°S</text>
<line x1="29.6" x2="32.1" y1="282.3" y2="282.3" stroke="#222" stroke-width="0.8"/>
<line x1="225.9" x2="223.4" y1="282.3" y2="282.3" stroke="#222" stroke-width="0.8"/>
<text x="24.7" y="286.3" text-anchor="end" class="ax" style="font-size:11.2px">66°S</text>
<clipPath id="cb"><rect x="296.5" y="13.3" width="317.8" height="162"/></clipPath>
<g clip-path="url(#cb)">
<rect x="296.5" y="13.3" width="317.8" height="162" fill="#c8ffff"/>
<polygon points="296.5,113.7 334,115 351.7,118.1 369.3,120.8 379.9,124.3 392,125.5 408,128 415,131 415,175.3 614.3,175.3 614.3,13.3 296.5,13.3" fill="#ffff50" />
<polygon points="296.5,70.6 307.6,72.3 312.9,73.2 316.4,75.8 320,78.5 334,83.8 348.1,88.2 357,94.4 360.5,99.1 378.1,101.4 400,103.2 412.3,104 414,175.3 486.3,175.3 486.3,126.5 531.4,126.5 533.2,135.3 549,141.4 557.9,135.3 561.4,130 575.5,126.5 591.3,122 594.9,128.2 596,175.3 614.3,175.3 614.3,13.3 296.5,13.3" fill="#ffec00" />
<polygon points="296.5,63.5 316.4,62.6 342.9,64 351.7,63.9 360.5,67 365.8,72 372.8,74 395.7,74.8 410,75.9 417.6,76.7 430,79.4 444,84.7 458.1,89.1 466.1,92.6 458.1,105.8 459,112.9 470.5,116.4 498.7,118.1 520,117.8 535.7,117.3 535.7,99 548.9,96.5 555.2,97.8 560.2,102.8 567.8,106 576.6,104.1 580.4,97.8 581.6,94 585.4,96.5 595.5,99.7 603,97.8 604.9,89 606.2,82.7 607.5,91.5 608.7,102.8 609,175.3 614.3,175.3 614.3,13.3 296.5,13.3" fill="#ffc400" />
<polygon points="296.5,37.6 317.4,41.1 340.7,43.5 360.5,45.4 378.1,45.9 395.7,49.4 400,49.6 410.6,52.9 421.1,54.7 444,55.2 454.6,59.5 459.9,66.5 467,74.1 479.3,81.1 498.7,84.7 504,88.2 504,112.9 512.8,112.9 512.8,97.5 520.9,94.4 530,92.3 542.6,91.5 559,90.9 567.8,89 569,83.9 572.8,83.3 580.4,85.2 586.7,87.1 593,89 600.5,85.2 605.6,80.8 606.8,85.2 611.9,92.7 614.3,95.3 614.3,13.3 296.5,13.3" fill="#ff9000" />
<polygon points="393.1,30.9 410,28.3 421.1,26.5 449.3,25.6 470.5,28.3 509.3,30 549,29.1 570.2,32.7 580.8,34.4 591.3,32.7 597.5,34.4 597.5,52.9 582.5,52.9 582.5,59.1 572.8,59.1 572.8,49.4 569.5,49.4 569.8,66 569,70.1 562.7,73.9 557.7,78.9 555.2,85.2 546.4,87.1 536.3,85.2 530,81.4 522.6,76.7 510.3,74.1 505.7,68 495.2,60 493.4,59.1 484.6,52.1 470.5,47.6 458.1,47.6 449.3,45.9 435.2,43.2 421.1,37.1 410,34.6 400,34" fill="#ff4800" />
<polygon points="605.4,36.2 614.3,35 614.3,59.1 605.4,59.1" fill="#ff4800" />
<polygon points="590.8,36.5 592.2,40 590.8,43 589.6,40" fill="#ff0000" />
<polygon points="613,38 614.3,37.5 614.3,43 613.2,42.5" fill="#ff0000" />
<polygon points="591.3,61.9 596.1,67.6 591.3,75.7 586.7,67.6" fill="#ffc400" />
<polygon points="608.7,70.5 611,68.8 614.3,68.8 614.3,78.9 610.5,78.5" fill="#ffc400" />
<polygon points="611.9,72 614.3,70 614.3,77.6 612.3,76.5" fill="#ffec00" />
<polygon points="611.2,82 614.3,81 614.3,92 612.8,91.5" fill="#ff4800" />
<polygon points="296.5,24 370,24 393,24 410,24 421,24.7 449,24.2 470.5,26.5 509.3,28.3 551.7,26.5 570,27.6 580.9,28.3 591.4,27.1 603,26 614.3,24.8 614.3,31.2 603,31 591.4,30.6 580.9,31.8 570,31.2 551.7,29.8 509.3,30 470.5,28.4 449,25.8 421,26.6 410,26.5 393,24.2 370,24 296.5,24" fill="#ff9000" />
<polygon points="296.5,18.9 370,18.9 393,19.2 410,19.5 421,20.7 449,21.2 470.5,22.1 509.3,23.9 551.7,22.1 570,23.4 580.9,24.2 591.4,23 603,21.8 614.3,20.7 614.3,22.18 603,23.31 591.4,24.48 580.9,25.68 570,24.91 551.7,23.68 509.3,25.48 470.5,23.68 449,22.28 421,22.14 410,21.12 393,20.93 370,20.74 296.5,20.74" fill="#ffff50" />
<polygon points="296.5,20.74 370,20.74 393,20.93 410,21.12 421,22.14 449,22.28 470.5,23.68 509.3,25.48 551.7,23.68 570,24.91 580.9,25.68 591.4,24.48 603,23.31 614.3,22.18 614.3,23.65 603,24.82 591.4,25.95 580.9,27.15 570,26.42 551.7,25.27 509.3,27.07 470.5,25.27 449,23.36 421,23.58 410,22.74 393,22.66 370,22.57 296.5,22.57" fill="#ffec00" />
<polygon points="296.5,22.57 370,22.57 393,22.66 410,22.74 421,23.58 449,23.36 470.5,25.27 509.3,27.07 551.7,25.27 570,26.42 580.9,27.15 591.4,25.95 603,24.82 614.3,23.65 614.3,24.8 603,26 591.4,27.1 580.9,28.3 570,27.6 551.7,26.5 509.3,28.3 470.5,26.5 449,24.2 421,24.7 410,24 393,24 370,24 296.5,24" fill="#ffc400" />
<polygon points="296.5,16.6 370,16.6 393,16.4 410,16 421,16.8 449,16.8 470.5,17.2 509.3,17.7 551.7,16.6 570,17.4 580.9,17.8 591.4,17.2 603,17.2 614.3,17.2 614.3,17.9 603,18.12 591.4,18.36 580.9,19.08 570,18.6 551.7,17.7 509.3,18.94 470.5,18.18 449,17.68 421,17.58 410,16.7 393,16.96 370,17.06 296.5,17.06" fill="#55a8ff" />
<polygon points="296.5,17.06 370,17.06 393,16.96 410,16.7 421,17.58 449,17.68 470.5,18.18 509.3,18.94 551.7,17.7 570,18.6 580.9,19.08 591.4,18.36 603,18.12 614.3,17.9 614.3,18.6 603,19.04 591.4,19.52 580.9,20.36 570,19.8 551.7,18.8 509.3,20.18 470.5,19.16 449,18.56 421,18.36 410,17.4 393,17.52 370,17.52 296.5,17.52" fill="#6cc4ff" />
<polygon points="296.5,17.52 370,17.52 393,17.52 410,17.4 421,18.36 449,18.56 470.5,19.16 509.3,20.18 551.7,18.8 570,19.8 580.9,20.36 591.4,19.52 603,19.04 614.3,18.6 614.3,19.3 603,19.96 591.4,20.68 580.9,21.64 570,21 551.7,19.9 509.3,21.42 470.5,20.14 449,19.44 421,19.14 410,18.1 393,18.08 370,17.98 296.5,17.98" fill="#88e0ff" />
<polygon points="296.5,17.98 370,17.98 393,18.08 410,18.1 421,19.14 449,19.44 470.5,20.14 509.3,21.42 551.7,19.9 570,21 580.9,21.64 591.4,20.68 603,19.96 614.3,19.3 614.3,20 603,20.88 591.4,21.84 580.9,22.92 570,22.2 551.7,21 509.3,22.66 470.5,21.12 449,20.32 421,19.92 410,18.8 393,18.64 370,18.44 296.5,18.44" fill="#a6f2ff" />
<polygon points="296.5,18.44 370,18.44 393,18.64 410,18.8 421,19.92 449,20.32 470.5,21.12 509.3,22.66 551.7,21 570,22.2 580.9,22.92 591.4,21.84 603,20.88 614.3,20 614.3,20.7 603,21.8 591.4,23 580.9,24.2 570,23.4 551.7,22.1 509.3,23.9 470.5,22.1 449,21.2 421,20.7 410,19.5 393,19.2 370,18.9 296.5,18.9" fill="#c8ffff" />
<polygon points="296.5,13.3 370,13.3 393,13.3 410,13.3 421,13.3 449,13.3 470.5,13.3 509.3,13.3 551.7,13.3 570,13.3 580.9,13.3 591.4,13.3 603,13.3 614.3,13.3 614.3,14.6 603,14.6 591.4,14.6 580.9,14.8 570,14.67 551.7,14.4 509.3,14.77 470.5,14.6 449,14.47 421,14.47 410,14.2 393,14.33 370,14.4 296.5,14.4" fill="#0a0ad6" />
<polygon points="296.5,14.4 370,14.4 393,14.33 410,14.2 421,14.47 449,14.47 470.5,14.6 509.3,14.77 551.7,14.4 570,14.67 580.9,14.8 591.4,14.6 603,14.6 614.3,14.6 614.3,15.9 603,15.9 591.4,15.9 580.9,16.3 570,16.03 551.7,15.5 509.3,16.23 470.5,15.9 449,15.63 421,15.63 410,15.1 393,15.37 370,15.5 296.5,15.5" fill="#2046ff" />
<polygon points="296.5,15.5 370,15.5 393,15.37 410,15.1 421,15.63 449,15.63 470.5,15.9 509.3,16.23 551.7,15.5 570,16.03 580.9,16.3 591.4,15.9 603,15.9 614.3,15.9 614.3,17.2 603,17.2 591.4,17.2 580.9,17.8 570,17.4 551.7,16.6 509.3,17.7 470.5,17.2 449,16.8 421,16.8 410,16 393,16.4 370,16.6 296.5,16.6" fill="#3c88ff" />
<defs><linearGradient id="gb" x1="0" x2="1" y1="0" y2="0"><stop offset="0" stop-color="#000" stop-opacity="0.95"/><stop offset="0.78" stop-color="#000" stop-opacity="0.95"/><stop offset="1" stop-color="#000" stop-opacity="0"/></linearGradient></defs>
<rect x="296.5" y="13.3" width="135" height="3.5" fill="url(#gb)"/>
<rect x="296.5" y="13.3" width="36" height="1.5" fill="#1a2f7a"/>
<defs><linearGradient id="gb2" x1="0" x2="1" y1="0" y2="0"><stop offset="0" stop-color="#a8dcea" stop-opacity="1"/><stop offset="0.75" stop-color="#a8dcea" stop-opacity="1"/><stop offset="1" stop-color="#a8dcea" stop-opacity="0"/></linearGradient></defs>
<rect x="296.5" y="17.0" width="140" height="2.4" fill="url(#gb2)"/>
<polyline points="421,15.4 449,15.4 470.5,15.64 509.3,15.94 551.7,15.28 570,15.76 580.9,16 591.4,15.64 603,15.64 614.3,15.64" fill="none" stroke="#222" stroke-width="0.5" stroke-linejoin="round" />
<polyline points="421,17.97 449,18.12 470.5,18.67 509.3,19.56 551.7,18.25 570,19.2 580.9,19.72 591.4,18.94 603,18.58 614.3,18.25" fill="none" stroke="#222" stroke-width="0.5" stroke-linejoin="round" />
<polyline points="421,19.34 449,19.66 470.5,20.39 509.3,21.73 551.7,20.18 570,21.3 580.9,21.96 591.4,20.97 603,20.19 614.3,19.47" fill="none" stroke="#222" stroke-width="0.5" stroke-linejoin="round" />
<polyline points="296.5,18.9 370,18.9 393,19.2 410,19.5 421,20.7 449,21.2 470.5,22.1 509.3,23.9 551.7,22.1 570,23.4 580.9,24.2 591.4,23 603,21.8 614.3,20.7" fill="none" stroke="#222" stroke-width="0.5" stroke-linejoin="round" />
<polyline points="296.5,21.45 370,21.45 393,21.6 410,21.75 421,22.7 449,22.7 470.5,24.3 509.3,26.1 551.7,24.3 570,25.5 580.9,26.25 591.4,25.05 603,23.9 614.3,22.75" fill="none" stroke="#222" stroke-width="0.5" stroke-linejoin="round" />
<polyline points="296.5,23.4 372,23.4 430,23.6 449.3,24.6 470.5,28.3 491.6,34.4 509.3,37.4 520,37.1 549,35.8 570.2,38.8 580.8,41.1 591.3,37.1 600.2,39.7 614.3,39.4" fill="none" stroke="#1c1c1c" stroke-width="0.95" stroke-linejoin="round" />
<polyline points="296.5,23.8 372.8,23.8 400,27 426.4,29.5 448.5,33.2 452.9,37.1 468.7,45.9 488.1,52.1 509.3,57.7 520,58.5 549,59.5 570.2,60.9 580.8,62.3 591.3,61.7 603.7,61.7 614.3,60" fill="none" stroke="#1c1c1c" stroke-width="0.95" stroke-linejoin="round" />
<line x1="302.3" y1="14.1" x2="302.3" y2="25.5" stroke="#e4e4e4" stroke-width="1.1" opacity="0.85"/>
<rect x="301.8" y="26" width="1" height="1" fill="#b9b9b9"/>
<rect x="301.8" y="33" width="1" height="1" fill="#b9b9b9"/>
<rect x="301.8" y="39.7" width="1" height="1" fill="#b9b9b9"/>
<rect x="301.8" y="53" width="1" height="1" fill="#b9b9b9"/>
<rect x="301.8" y="66.2" width="1" height="1" fill="#b9b9b9"/>
<rect x="301.8" y="79.5" width="1" height="1" fill="#b9b9b9"/>
<rect x="301.8" y="92.7" width="1" height="1" fill="#b9b9b9"/>
<rect x="301.8" y="105.8" width="1" height="1" fill="#b9b9b9"/>
<rect x="301.8" y="119.1" width="1" height="1" fill="#b9b9b9"/>
<rect x="301.8" y="132.5" width="1" height="1" fill="#b9b9b9"/>
<rect x="301.8" y="145.8" width="1" height="1" fill="#b9b9b9"/>
<rect x="301.8" y="159.1" width="1" height="1" fill="#b9b9b9"/>
<line x1="370.2" y1="14.1" x2="370.2" y2="25.5" stroke="#e4e4e4" stroke-width="1.1" opacity="0.85"/>
<rect x="369.7" y="26" width="1" height="1" fill="#b9b9b9"/>
<rect x="369.7" y="33" width="1" height="1" fill="#b9b9b9"/>
<rect x="369.7" y="39.7" width="1" height="1" fill="#b9b9b9"/>
<rect x="369.7" y="53" width="1" height="1" fill="#b9b9b9"/>
<rect x="369.7" y="66.2" width="1" height="1" fill="#b9b9b9"/>
<rect x="369.7" y="79.5" width="1" height="1" fill="#b9b9b9"/>
<rect x="369.7" y="92.7" width="1" height="1" fill="#b9b9b9"/>
<rect x="369.7" y="105.8" width="1" height="1" fill="#b9b9b9"/>
<rect x="369.7" y="119.1" width="1" height="1" fill="#b9b9b9"/>
<rect x="369.7" y="132.5" width="1" height="1" fill="#b9b9b9"/>
<rect x="369.7" y="145.8" width="1" height="1" fill="#b9b9b9"/>
<rect x="369.7" y="159.1" width="1" height="1" fill="#b9b9b9"/>
<line x1="421.5" y1="14.1" x2="421.5" y2="25.5" stroke="#e4e4e4" stroke-width="1.1" opacity="0.85"/>
<rect x="421" y="26" width="1" height="1" fill="#b9b9b9"/>
<rect x="421" y="33" width="1" height="1" fill="#b9b9b9"/>
<rect x="421" y="39.7" width="1" height="1" fill="#b9b9b9"/>
<rect x="421" y="53" width="1" height="1" fill="#b9b9b9"/>
<rect x="421" y="66.2" width="1" height="1" fill="#b9b9b9"/>
<rect x="421" y="79.5" width="1" height="1" fill="#b9b9b9"/>
<rect x="421" y="92.7" width="1" height="1" fill="#b9b9b9"/>
<rect x="421" y="105.8" width="1" height="1" fill="#b9b9b9"/>
<rect x="421" y="119.1" width="1" height="1" fill="#b9b9b9"/>
<rect x="421" y="132.5" width="1" height="1" fill="#b9b9b9"/>
<rect x="421" y="145.8" width="1" height="1" fill="#b9b9b9"/>
<rect x="421" y="159.1" width="1" height="1" fill="#b9b9b9"/>
<line x1="449.3" y1="14.1" x2="449.3" y2="25.5" stroke="#e4e4e4" stroke-width="1.1" opacity="0.85"/>
<rect x="448.8" y="26" width="1" height="1" fill="#b9b9b9"/>
<rect x="448.8" y="33" width="1" height="1" fill="#b9b9b9"/>
<rect x="448.8" y="39.7" width="1" height="1" fill="#b9b9b9"/>
<rect x="448.8" y="53" width="1" height="1" fill="#b9b9b9"/>
<rect x="448.8" y="66.2" width="1" height="1" fill="#b9b9b9"/>
<rect x="448.8" y="79.5" width="1" height="1" fill="#b9b9b9"/>
<rect x="448.8" y="92.7" width="1" height="1" fill="#b9b9b9"/>
<rect x="448.8" y="105.8" width="1" height="1" fill="#b9b9b9"/>
<rect x="448.8" y="119.1" width="1" height="1" fill="#b9b9b9"/>
<rect x="448.8" y="132.5" width="1" height="1" fill="#b9b9b9"/>
<rect x="448.8" y="145.8" width="1" height="1" fill="#b9b9b9"/>
<rect x="448.8" y="159.1" width="1" height="1" fill="#b9b9b9"/>
<line x1="469.1" y1="14.1" x2="469.1" y2="25.5" stroke="#e4e4e4" stroke-width="1.1" opacity="0.85"/>
<rect x="468.6" y="26" width="1" height="1" fill="#b9b9b9"/>
<rect x="468.6" y="33" width="1" height="1" fill="#b9b9b9"/>
<rect x="468.6" y="39.7" width="1" height="1" fill="#b9b9b9"/>
<rect x="468.6" y="53" width="1" height="1" fill="#b9b9b9"/>
<rect x="468.6" y="66.2" width="1" height="1" fill="#b9b9b9"/>
<rect x="468.6" y="79.5" width="1" height="1" fill="#b9b9b9"/>
<rect x="468.6" y="92.7" width="1" height="1" fill="#b9b9b9"/>
<rect x="468.6" y="105.8" width="1" height="1" fill="#b9b9b9"/>
<rect x="468.6" y="119.1" width="1" height="1" fill="#b9b9b9"/>
<rect x="468.6" y="132.5" width="1" height="1" fill="#b9b9b9"/>
<rect x="468.6" y="145.8" width="1" height="1" fill="#b9b9b9"/>
<rect x="468.6" y="159.1" width="1" height="1" fill="#b9b9b9"/>
<line x1="509.3" y1="14.1" x2="509.3" y2="25.5" stroke="#e4e4e4" stroke-width="1.1" opacity="0.85"/>
<rect x="508.8" y="26" width="1" height="1" fill="#b9b9b9"/>
<rect x="508.8" y="33" width="1" height="1" fill="#b9b9b9"/>
<rect x="508.8" y="39.7" width="1" height="1" fill="#b9b9b9"/>
<rect x="508.8" y="53" width="1" height="1" fill="#b9b9b9"/>
<rect x="508.8" y="66.2" width="1" height="1" fill="#b9b9b9"/>
<rect x="508.8" y="79.5" width="1" height="1" fill="#b9b9b9"/>
<rect x="508.8" y="92.7" width="1" height="1" fill="#b9b9b9"/>
<rect x="508.8" y="105.8" width="1" height="1" fill="#b9b9b9"/>
<rect x="508.8" y="119.1" width="1" height="1" fill="#b9b9b9"/>
<rect x="508.8" y="132.5" width="1" height="1" fill="#b9b9b9"/>
<rect x="508.8" y="145.8" width="1" height="1" fill="#b9b9b9"/>
<rect x="508.8" y="159.1" width="1" height="1" fill="#b9b9b9"/>
<line x1="549.9" y1="14.1" x2="549.9" y2="25.5" stroke="#e4e4e4" stroke-width="1.1" opacity="0.85"/>
<rect x="549.4" y="26" width="1" height="1" fill="#b9b9b9"/>
<rect x="549.4" y="33" width="1" height="1" fill="#b9b9b9"/>
<rect x="549.4" y="39.7" width="1" height="1" fill="#b9b9b9"/>
<rect x="549.4" y="53" width="1" height="1" fill="#b9b9b9"/>
<rect x="549.4" y="66.2" width="1" height="1" fill="#b9b9b9"/>
<rect x="549.4" y="79.5" width="1" height="1" fill="#b9b9b9"/>
<rect x="549.4" y="92.7" width="1" height="1" fill="#b9b9b9"/>
<rect x="549.4" y="105.8" width="1" height="1" fill="#b9b9b9"/>
<rect x="549.4" y="119.1" width="1" height="1" fill="#b9b9b9"/>
<rect x="549.4" y="132.5" width="1" height="1" fill="#b9b9b9"/>
<rect x="549.4" y="145.8" width="1" height="1" fill="#b9b9b9"/>
<rect x="549.4" y="159.1" width="1" height="1" fill="#b9b9b9"/>
<line x1="570.2" y1="14.1" x2="570.2" y2="25.5" stroke="#e4e4e4" stroke-width="1.1" opacity="0.85"/>
<rect x="569.7" y="26" width="1" height="1" fill="#b9b9b9"/>
<rect x="569.7" y="33" width="1" height="1" fill="#b9b9b9"/>
<rect x="569.7" y="39.7" width="1" height="1" fill="#b9b9b9"/>
<rect x="569.7" y="53" width="1" height="1" fill="#b9b9b9"/>
<rect x="569.7" y="66.2" width="1" height="1" fill="#b9b9b9"/>
<rect x="569.7" y="79.5" width="1" height="1" fill="#b9b9b9"/>
<rect x="569.7" y="92.7" width="1" height="1" fill="#b9b9b9"/>
<rect x="569.7" y="105.8" width="1" height="1" fill="#b9b9b9"/>
<rect x="569.7" y="119.1" width="1" height="1" fill="#b9b9b9"/>
<rect x="569.7" y="132.5" width="1" height="1" fill="#b9b9b9"/>
<rect x="569.7" y="145.8" width="1" height="1" fill="#b9b9b9"/>
<rect x="569.7" y="159.1" width="1" height="1" fill="#b9b9b9"/>
<line x1="581.1" y1="14.1" x2="581.1" y2="25.5" stroke="#e4e4e4" stroke-width="1.1" opacity="0.85"/>
<rect x="580.4" y="25.8" width="1.4" height="1.4" fill="#333"/>
<rect x="580.4" y="32.8" width="1.4" height="1.4" fill="#333"/>
<rect x="580.4" y="39.5" width="1.4" height="1.4" fill="#333"/>
<rect x="580.4" y="52.8" width="1.4" height="1.4" fill="#333"/>
<rect x="580.4" y="66" width="1.4" height="1.4" fill="#333"/>
<rect x="580.4" y="79.3" width="1.4" height="1.4" fill="#333"/>
<rect x="580.4" y="92.5" width="1.4" height="1.4" fill="#333"/>
<rect x="580.4" y="105.6" width="1.4" height="1.4" fill="#333"/>
<rect x="580.4" y="118.9" width="1.4" height="1.4" fill="#333"/>
<rect x="580.4" y="132.3" width="1.4" height="1.4" fill="#333"/>
<rect x="580.4" y="145.6" width="1.4" height="1.4" fill="#333"/>
<rect x="580.4" y="158.9" width="1.4" height="1.4" fill="#333"/>
<line x1="591.3" y1="14.1" x2="591.3" y2="25.5" stroke="#e4e4e4" stroke-width="1.1" opacity="0.85"/>
<rect x="590.8" y="26" width="1" height="1" fill="#b9b9b9"/>
<rect x="590.8" y="33" width="1" height="1" fill="#b9b9b9"/>
<rect x="590.8" y="39.7" width="1" height="1" fill="#b9b9b9"/>
<rect x="590.8" y="53" width="1" height="1" fill="#b9b9b9"/>
<rect x="590.8" y="66.2" width="1" height="1" fill="#b9b9b9"/>
<rect x="590.8" y="79.5" width="1" height="1" fill="#b9b9b9"/>
<rect x="590.8" y="92.7" width="1" height="1" fill="#b9b9b9"/>
<rect x="590.8" y="105.8" width="1" height="1" fill="#b9b9b9"/>
<rect x="590.8" y="119.1" width="1" height="1" fill="#b9b9b9"/>
<rect x="590.8" y="132.5" width="1" height="1" fill="#b9b9b9"/>
<rect x="590.8" y="145.8" width="1" height="1" fill="#b9b9b9"/>
<rect x="590.8" y="159.1" width="1" height="1" fill="#b9b9b9"/>
<line x1="600.7" y1="14.1" x2="600.7" y2="25.5" stroke="#e4e4e4" stroke-width="1.1" opacity="0.85"/>
<rect x="600.2" y="26" width="1" height="1" fill="#b9b9b9"/>
<rect x="600.2" y="33" width="1" height="1" fill="#b9b9b9"/>
<rect x="600.2" y="39.7" width="1" height="1" fill="#b9b9b9"/>
<rect x="600.2" y="53" width="1" height="1" fill="#b9b9b9"/>
<rect x="600.2" y="66.2" width="1" height="1" fill="#b9b9b9"/>
<rect x="600.2" y="79.5" width="1" height="1" fill="#b9b9b9"/>
<rect x="600.2" y="92.7" width="1" height="1" fill="#b9b9b9"/>
<rect x="600.2" y="105.8" width="1" height="1" fill="#b9b9b9"/>
<rect x="600.2" y="119.1" width="1" height="1" fill="#b9b9b9"/>
<rect x="600.2" y="132.5" width="1" height="1" fill="#b9b9b9"/>
<rect x="600.2" y="145.8" width="1" height="1" fill="#b9b9b9"/>
<rect x="600.2" y="159.1" width="1" height="1" fill="#b9b9b9"/>
<line x1="605.4" y1="14.1" x2="605.4" y2="25.5" stroke="#e4e4e4" stroke-width="1.1" opacity="0.85"/>
<rect x="604.9" y="26" width="1" height="1" fill="#b9b9b9"/>
<rect x="604.9" y="33" width="1" height="1" fill="#b9b9b9"/>
<rect x="604.9" y="39.7" width="1" height="1" fill="#b9b9b9"/>
<rect x="604.9" y="53" width="1" height="1" fill="#b9b9b9"/>
<rect x="604.9" y="66.2" width="1" height="1" fill="#b9b9b9"/>
<rect x="604.9" y="79.5" width="1" height="1" fill="#b9b9b9"/>
<rect x="604.9" y="92.7" width="1" height="1" fill="#b9b9b9"/>
<rect x="604.9" y="105.8" width="1" height="1" fill="#b9b9b9"/>
<rect x="604.9" y="119.1" width="1" height="1" fill="#b9b9b9"/>
<rect x="604.9" y="132.5" width="1" height="1" fill="#b9b9b9"/>
<rect x="604.9" y="145.8" width="1" height="1" fill="#b9b9b9"/>
<rect x="604.9" y="159.1" width="1" height="1" fill="#b9b9b9"/>
<line x1="608.1" y1="14.1" x2="608.1" y2="25.5" stroke="#e4e4e4" stroke-width="1.1" opacity="0.85"/>
<rect x="607.6" y="26" width="1" height="1" fill="#b9b9b9"/>
<rect x="607.6" y="33" width="1" height="1" fill="#b9b9b9"/>
<rect x="607.6" y="39.7" width="1" height="1" fill="#b9b9b9"/>
<rect x="607.6" y="53" width="1" height="1" fill="#b9b9b9"/>
<rect x="607.6" y="66.2" width="1" height="1" fill="#b9b9b9"/>
<rect x="607.6" y="79.5" width="1" height="1" fill="#b9b9b9"/>
<rect x="607.6" y="92.7" width="1" height="1" fill="#b9b9b9"/>
<rect x="607.6" y="105.8" width="1" height="1" fill="#b9b9b9"/>
<rect x="607.6" y="119.1" width="1" height="1" fill="#b9b9b9"/>
<rect x="607.6" y="132.5" width="1" height="1" fill="#b9b9b9"/>
<rect x="607.6" y="145.8" width="1" height="1" fill="#b9b9b9"/>
<rect x="607.6" y="159.1" width="1" height="1" fill="#b9b9b9"/>
<line x1="612.8" y1="14.1" x2="612.8" y2="25.5" stroke="#e4e4e4" stroke-width="1.1" opacity="0.85"/>
<rect x="612.3" y="26" width="1" height="1" fill="#b9b9b9"/>
<rect x="612.3" y="33" width="1" height="1" fill="#b9b9b9"/>
<rect x="612.3" y="39.7" width="1" height="1" fill="#b9b9b9"/>
<rect x="612.3" y="53" width="1" height="1" fill="#b9b9b9"/>
<rect x="612.3" y="66.2" width="1" height="1" fill="#b9b9b9"/>
<rect x="612.3" y="79.5" width="1" height="1" fill="#b9b9b9"/>
<rect x="612.3" y="92.7" width="1" height="1" fill="#b9b9b9"/>
<rect x="612.3" y="105.8" width="1" height="1" fill="#b9b9b9"/>
<rect x="612.3" y="119.1" width="1" height="1" fill="#b9b9b9"/>
<rect x="612.3" y="132.5" width="1" height="1" fill="#b9b9b9"/>
<rect x="612.3" y="145.8" width="1" height="1" fill="#b9b9b9"/>
<rect x="612.3" y="159.1" width="1" height="1" fill="#b9b9b9"/>
<polygon points="296.5,167.9 300.6,155.9 303.2,158.2 305.9,159.1 307.6,167.9 309.4,173.1 311.5,161.2 316.4,155.9 319.1,165.2 320.8,167.5 323.5,152 326.1,155.5 329.1,157.3 331.4,149.4 334.1,156.4 336.7,152 340.2,157.3 343.7,161.7 346.4,158.2 349,156.4 352.6,127.7 354.3,137.9 357,155.5 359.6,152.9 361.9,147.6 364,148.5 367.5,138.8 370.2,146.7 371.4,152 375.5,141.4 377.2,145 380.7,123.8 384.3,117.6 386.9,122 391.3,137.9 393.6,135.3 396.1,144.1 401,118.5 404.5,128 406.3,125.6 410,117.6 414.1,105.5 416.5,111 418.5,108 421.1,105.8 423,110 425.6,100.5 428,112 430.8,123.8 434.4,107.6 437.4,122 440.5,112 443.2,122.9 446.7,110 450.2,104.9 453,106 456.4,111 456.4,115 462,175.4 467,125.6 472.2,150.2 475.4,121.2 479.3,152.9 484.6,143.2 486.3,149.4 489.3,133.5 493.4,160.8 498.7,162.6 500.4,157.3 504,170.5 507.5,161.7 511,159.9 516.3,169.6 519.1,166.1 520.9,170.5 523.5,160.8 527,169.6 530.6,162.6 534.1,166.1 537.6,164.3 542,160.8 547.3,159.9 551.7,154.6 555.2,153.8 557.9,159.1 561,133.5 563.1,145.8 568.4,149.4 575.5,146.7 582.5,144.1 587.8,139.7 593.1,133.5 595.7,136.1 598.4,126.5 601,122 603.7,115 605.4,111.1 607,107 609,102.8 611.2,102.5 614.3,104.5 614.3,175.3 296.5,175.3" fill="#b3b3b3" />
<text x="380.3" y="170.2" text-anchor="middle" style="fill:#ededed;font-size:11px">Section 1</text>
</g>
<clipPath id="cc"><rect x="296.5" y="220.5" width="317.8" height="162"/></clipPath>
<g clip-path="url(#cc)">
<rect x="296.5" y="220.5" width="317.8" height="162" fill="#ffec00"/>
<polygon points="296.5,285.5 298.4,284.8 309.1,281 319.2,279.1 322.3,284.2 325.5,295.5 328,305.6 328.3,312 327.4,318.8 321.7,323.9 316.7,325.1 312,330 296.5,332" fill="#ffff50" />
<polygon points="339.3,312 340.6,308.1 344.4,304.3 349.4,302.4 355.7,304.3 359.5,309.3 360.8,328.9 362.6,339 368.3,342.7 369.6,347.8 369.6,364 330,364 331.8,337.1 336.8,332.7 338.1,322.6" fill="#ffff50" />
<polygon points="402.4,314 406.2,308.1 410.6,305.6 413.8,309.3 414.4,332.7 418.8,340.2 423.9,346.5 441.5,347.8 441.5,372 398.7,372 398.7,345.3 402.4,335.2" fill="#ffff50" />
<polygon points="463,335.2 466.8,331.4 470,337.7 470.6,347.8 475.6,360 476,376 461.8,376 461.8,350" fill="#ffff50" />
<polygon points="609.6,316 608.3,295.5 610.8,282.9 614.3,279.1 614.3,322 612,322" fill="#ffff50" />
<polygon points="300,300 301.5,299 302.8,305 303.3,316 301,316" fill="#c8ffff" />
<polygon points="318.4,306 320,303.5 321.6,306.5 321.9,316 320.2,319 318.3,316" fill="#c8ffff" />
<ellipse cx="349.7" cy="323" rx="6" ry="15.6" fill="#c8ffff"/>
<ellipse cx="349.7" cy="322" rx="2.4" ry="9.5" fill="#a6f2ff"/>
<polygon points="404.3,372 404.3,346.5 410,339.6 417.6,346.5 420.7,350.3 421.3,372" fill="#c8ffff" />
<polygon points="470,349 473.7,349 474.6,376 469.3,376" fill="#c8ffff" />
<polygon points="612.1,314 611.5,295.5 614.3,288 614.3,314" fill="#c8ffff" />
<polygon points="296.5,220.5 296.5,247.5 299.5,247 301.5,249.5 302,254 301,257 303,259.5 309,260.5 316,262 320.5,264.5 321.1,266 323,271.6 326.7,282.9 330.5,293 334.3,300.5 344.4,300.5 351.9,299.3 359.5,299.9 362.6,302 362.6,331.4 367,335.2 380,336.4 384.2,332.7 384.8,310.6 394.9,306.8 401.2,301.8 407.5,296.7 408.1,287.9 411.3,285.4 412.5,296.7 417.6,305.6 421,312 421.3,335.2 426.4,340.2 441.5,340.9 451.6,340.2 457.9,335.2 459.1,328.9 462,326.8 465.6,327.6 470.6,332.7 474.4,341.5 476.9,360 478,382 519.7,382 519.7,314 521,308.1 528.5,306.2 536.1,308.1 538.4,314 538.4,382 572.4,382 572.4,360 571.8,346.5 581.9,340.2 589.4,335.2 593.2,327.6 600.8,322.6 604.5,315 603.3,295.5 605.8,284.2 610.8,276.6 614.3,274.1 614.3,220.5" fill="#ffc400" />
<polygon points="296.5,220.5 296.5,240.7 301.6,241.3 307.9,243.8 312.9,247.6 319.2,248.2 328,250.1 326.1,255.8 325.5,264 327.4,271.6 329.9,280.4 332.4,289.8 334.9,294.9 345.6,294.9 348.8,291.1 349.4,286.7 369.6,285.7 374.6,287.6 375.9,296.7 376,299.9 383.6,298.6 392.4,296.7 393,290.4 398,285.4 407.5,281 414.4,282.3 418.8,289.2 422.6,300.5 425.1,306.8 431.4,308.1 442.8,305.6 447.8,300.5 454.1,296.7 458,297.4 464.3,298.6 466.2,310 466.2,321.3 471.9,322.6 472.5,331.4 480.7,330.8 483.2,340.2 484,382 505.2,382 505.2,314 508.4,305.6 518.5,301.2 533.6,299.9 541,298.5 541.6,290 542.2,279 546.6,270.3 550.4,279 550.4,295.5 551.6,310 552.9,328.9 559.2,340.2 575.6,336.4 584.4,332.7 588.2,326.4 597,320.1 599.5,313.8 599.5,295.5 602,282.9 607,274.1 614.3,269 614.3,220.5" fill="#ff9000" />
<ellipse cx="471.9" cy="296.7" rx="3.1" ry="12.6" fill="#ffc400"/>
<polygon points="568,296.7 576.8,287.3 584.4,296.7 581.9,305.6 571.8,306.8" fill="#ffc400" />
<polygon points="331.2,261.5 335.6,258.3 344.4,258.3 349.4,260.8 344.4,266 338.1,275.3 336.2,289.2 333.7,289.2 334.3,276.6 332,266" fill="#ff4800" />
<polygon points="357,230.6 376,230.5 410,231.2 441.5,234.4 456.6,235 470,237.5 485,236.5 490.7,236.5 494,245 497,250 501,254 501.5,264 499.6,267.8 494.5,269 488.2,272.8 489.5,277.9 500.8,282.9 501.5,289.2 498.3,299.3 490.7,308.1 481.9,299.3 480.7,289.2 475.6,280.4 471.9,275.3 468.1,279.1 464.3,286.7 458,290.4 448.4,293.6 442.8,298 431.4,302.4 423.9,300.5 422.6,289.2 417.6,280.4 411.3,272.8 413.8,264.5 416,262 415,258.5 411.2,256.4 402.4,256.4 393.6,255.1 389.2,251.6 386.6,247.1 384.8,241.9 383,239.2 378.6,239.2 376,241 373.7,250.2 374.6,257.3 381.6,264.3 383.6,265.3 391.1,272.8 388.6,279.1 381,284.2 376,282.9 369.6,280.4 360.8,276.6 354.5,271.6 353.2,264 350.7,260.8 351.3,254.5 353.2,249.5 355.1,243.2 354.5,236.9" fill="#ff4800" />
<ellipse cx="481.5" cy="256.5" rx="3.3" ry="6.5" fill="#ff9000"/>
<polygon points="510,264 513,261.5 524.8,260.2 534,260.2 546.6,262.5 559.2,265.2 568,260 578,255.8 584,261 589.4,268 584.4,269 575.6,271.6 565.5,272.8 564.2,279.1 559.2,286.7 556.7,279.1 555.4,271.6 556.7,266.5 544.1,265.3 537.8,269 536.1,271.6 533.6,280.4 538.6,289.2 533.6,295.5 521,297 512.2,293 508.4,280.4 506.5,271.6" fill="#ff4800" />
<polygon points="593.2,282.9 597,299.3 596,316 584.4,316.3 586.5,310 589.4,299.3" fill="#ff4800" />
<polygon points="557.9,303.5 559.5,303 563.1,310.5 575.5,315.8 580.8,319.3 579,332.2 558.5,330" fill="#ff4800" />
<polygon points="362.6,235.6 369.6,235 370.8,238.2 369.6,243.2 370.8,248.2 368.3,254.5 367.5,262 372,266 378,268 381,270.5 375.9,274.1 369.6,276.6 362.6,272.8 362,262 362.6,255.8 361.4,243.2" fill="#ff0000" />
<polygon points="389.2,234.4 395,232.8 410,232.5 441.5,235.5 456.6,236.2 461,238.5 463.7,243 463.7,250.7 461.8,259.6 463.7,264 461.8,269 458,272.5 457.9,274.1 456.6,281.6 451.6,282.9 439,281.6 426.4,279.1 423.2,274.1 423.2,264 421.8,261 420.9,258.6 417.4,255.1 411.2,253.3 402.4,251.6 396.3,249.3 402.4,245.4 411.2,242.7 410.4,237.5 402.4,240.1 395.4,239.2" fill="#ff0000" />
<ellipse cx="473.2" cy="262.4" rx="3.5" ry="5.3" fill="#ff0000"/>
<ellipse cx="490.5" cy="253.5" rx="4" ry="10" fill="#ff0000"/>
<polygon points="524.4,261.5 526,264 524.6,266.5 523,264" fill="#ff0000" />
<polygon points="593.2,302 594.8,305.6 593.2,309 591.6,305.6" fill="#ff0000" />
<polygon points="433.5,240.5 441.5,242.3 450,240.5 457,239 461,241.5 458,245.5 450,247 443,248 438,245" fill="#d00000" />
<polygon points="446.3,260.5 450,258.5 456.5,257.8 458,262 457,265.5 450,266 446.5,264.5" fill="#d00000" />
<polygon points="296.5,230.6 313.5,231.6 319.2,230.8 334.3,228.7 349.4,228.5 364.8,229 376,229.6 410,229.6 441.5,230.6 456.6,231.6 470.6,233.6 483.2,232.6 490.7,232.6 505.9,249.8 524.8,251.4 534,252 559,254.5 578,250.1 593,250.7 614.3,254.5 614.3,259.6 593,254.5 578,252.6 559,258.3 534,255.8 524.8,255.8 505.9,253.3 490.7,234.2 483.2,234 470.6,235 456.6,232.6 441.5,231.6 410,230.4 376,230.2 364.8,230 349.4,229.5 334.3,229.5 319.2,232 313.5,232.8 296.5,231.9" fill="#ffc400" />
<polygon points="296.5,227.8 313.5,229 319.2,228 334.3,224.3 349.4,224.3 364.8,224.5 376,224.9 410,224.9 441.5,226.2 456.6,228 470.6,229.6 483.2,229.3 490.7,229.3 505.9,242.6 524.8,246.3 534,247 559,248.9 578,243.8 593,244.4 614.3,249.5 614.3,252 593,247.55 578,246.95 559,251.7 534,249.5 524.8,248.85 505.9,246.2 490.7,230.95 483.2,230.95 470.6,231.6 456.6,229.8 441.5,228.4 410,227.25 376,227.25 364.8,226.75 349.4,226.4 334.3,226.5 319.2,229.4 313.5,230.3 296.5,229.2" fill="#ffff50" />
<polygon points="296.5,229.2 313.5,230.3 319.2,229.4 334.3,226.5 349.4,226.4 364.8,226.75 376,227.25 410,227.25 441.5,228.4 456.6,229.8 470.6,231.6 483.2,230.95 490.7,230.95 505.9,246.2 524.8,248.85 534,249.5 559,251.7 578,246.95 593,247.55 614.3,252 614.3,254.5 593,250.7 578,250.1 559,254.5 534,252 524.8,251.4 505.9,249.8 490.7,232.6 483.2,232.6 470.6,233.6 456.6,231.6 441.5,230.6 410,229.6 376,229.6 364.8,229 349.4,228.5 334.3,228.7 319.2,230.8 313.5,231.6 296.5,230.6" fill="#ffec00" />
<polygon points="296.5,221.6 313.5,221.6 319.2,221.6 334.3,223 349.4,223 364.8,223 376,223 410,223 441.5,222.6 456.6,223 470.6,224.3 483.2,224.3 490.7,224.3 505.9,225.2 524.8,225.8 534,226 559,226 578,225.6 593,225.6 614.3,226 614.3,228.47 593,227.57 578,227.51 559,228.4 534,228.21 524.8,227.95 505.9,227.03 490.7,224.83 483.2,224.83 470.6,224.86 456.6,223.53 441.5,222.98 410,223.2 376,223.2 364.8,223.16 349.4,223.14 334.3,223.14 319.2,222.27 313.5,222.38 296.5,222.25" fill="#3c88ff" />
<polygon points="296.5,222.25 313.5,222.38 319.2,222.27 334.3,223.14 349.4,223.14 364.8,223.16 376,223.2 410,223.2 441.5,222.98 456.6,223.53 470.6,224.86 483.2,224.83 490.7,224.83 505.9,227.03 524.8,227.95 534,228.21 559,228.4 578,227.51 593,227.57 614.3,228.47 614.3,231.55 593,230.04 578,229.9 559,231.4 534,230.96 524.8,230.64 505.9,229.31 490.7,225.48 483.2,225.48 470.6,225.55 456.6,224.18 441.5,223.45 410,223.45 376,223.45 364.8,223.35 349.4,223.31 334.3,223.31 319.2,223.11 313.5,223.35 296.5,223.06" fill="#55a8ff" />
<polygon points="296.5,223.06 313.5,223.35 319.2,223.11 334.3,223.31 349.4,223.31 364.8,223.35 376,223.45 410,223.45 441.5,223.45 456.6,224.18 470.6,225.55 483.2,225.48 490.7,225.48 505.9,229.31 524.8,230.64 534,230.96 559,231.4 578,229.9 593,230.04 614.3,231.55 614.3,234.65 593,232.52 578,232.3 559,234.43 534,233.73 524.8,233.34 505.9,231.6 490.7,226.14 483.2,226.14 470.6,226.25 456.6,224.84 441.5,223.92 410,223.7 376,223.7 364.8,223.55 349.4,223.48 334.3,223.48 319.2,223.96 313.5,224.32 296.5,223.88" fill="#6cc4ff" />
<polygon points="296.5,223.88 313.5,224.32 319.2,223.96 334.3,223.48 349.4,223.48 364.8,223.55 376,223.7 410,223.7 441.5,223.92 456.6,224.84 470.6,226.25 483.2,226.14 490.7,226.14 505.9,231.6 524.8,233.34 534,233.73 559,234.43 578,232.3 593,232.52 614.3,234.65 614.3,237.75 593,235 578,234.7 559,237.45 534,236.5 524.8,236.05 505.9,233.9 490.7,226.8 483.2,226.8 470.6,226.95 456.6,225.5 441.5,224.4 410,223.95 376,223.95 364.8,223.75 349.4,223.65 334.3,223.65 319.2,224.8 313.5,225.3 296.5,224.7" fill="#88e0ff" />
<polygon points="296.5,224.7 313.5,225.3 319.2,224.8 334.3,223.65 349.4,223.65 364.8,223.75 376,223.95 410,223.95 441.5,224.4 456.6,225.5 470.6,226.95 483.2,226.8 490.7,226.8 505.9,233.9 524.8,236.05 534,236.5 559,237.45 578,234.7 593,235 614.3,237.75 614.3,241.51 593,238.01 578,237.61 559,241.11 534,239.86 524.8,239.33 505.9,236.68 490.7,227.6 483.2,227.6 470.6,227.8 456.6,226.3 441.5,224.98 410,224.25 376,224.25 364.8,223.99 349.4,223.86 334.3,223.86 319.2,225.82 313.5,226.48 296.5,225.69" fill="#a6f2ff" />
<polygon points="296.5,225.69 313.5,226.48 319.2,225.82 334.3,223.86 349.4,223.86 364.8,223.99 376,224.25 410,224.25 441.5,224.98 456.6,226.3 470.6,227.8 483.2,227.6 490.7,227.6 505.9,236.68 524.8,239.33 534,239.86 559,241.11 578,237.61 593,238.01 614.3,241.51 614.3,249.5 593,244.4 578,243.8 559,248.9 534,247 524.8,246.3 505.9,242.6 490.7,229.3 483.2,229.3 470.6,229.6 456.6,228 441.5,226.2 410,224.9 376,224.9 364.8,224.5 349.4,224.3 334.3,224.3 319.2,228 313.5,229 296.5,227.8" fill="#c8ffff" />
<polygon points="296.5,220.5 313.5,220.5 319.2,220.5 334.3,220.5 349.4,220.5 364.8,220.5 376,220.5 410,220.5 441.5,220.5 456.6,220.5 470.6,220.5 483.2,220.5 490.7,220.5 505.9,220.5 524.8,220.5 534,220.5 559,220.5 578,220.5 593,220.5 614.3,220.5 614.3,223.25 593,223.05 578,223.05 559,223.25 534,223.25 524.8,223.15 505.9,222.85 490.7,222.4 483.2,222.4 470.6,222.4 456.6,221.75 441.5,221.55 410,221.75 376,221.75 364.8,221.75 349.4,221.75 334.3,221.75 319.2,221.05 313.5,221.05 296.5,221.05" fill="#0a0ad6" />
<polygon points="296.5,221.05 313.5,221.05 319.2,221.05 334.3,221.75 349.4,221.75 364.8,221.75 376,221.75 410,221.75 441.5,221.55 456.6,221.75 470.6,222.4 483.2,222.4 490.7,222.4 505.9,222.85 524.8,223.15 534,223.25 559,223.25 578,223.05 593,223.05 614.3,223.25 614.3,226 593,225.6 578,225.6 559,226 534,226 524.8,225.8 505.9,225.2 490.7,224.3 483.2,224.3 470.6,224.3 456.6,223 441.5,222.6 410,223 376,223 364.8,223 349.4,223 334.3,223 319.2,221.6 313.5,221.6 296.5,221.6" fill="#2046ff" />
<polygon points="490.7,220.5 505.9,220.5 524.8,220.5 534,220.5 559,220.5 578,220.5 593,220.5 614.3,220.5 614.3,235.87 593,233.5 578,233.24 559,235.62 534,234.82 524.8,234.41 505.9,232.51 490.7,226.4" fill="#00142e" opacity="0.22"/>
<rect x="330" y="220.5" width="46" height="2.3" fill="#000" opacity="0.88"/>
<rect x="296.5" y="220.5" width="33.5" height="1.3" fill="#000" opacity="0.88"/>
<rect x="376" y="220.5" width="84" height="2.2" fill="#040c30" opacity="0.9"/>
<rect x="578" y="220.5" width="36.3" height="2.5" fill="#000" opacity="0.9"/>
<rect x="505" y="220.5" width="73" height="1.6" fill="#000820" opacity="0.6"/>
<polyline points="505.9,222.85 524.8,223.15 534,223.25 559,223.25 578,223.05 593,223.05 614.3,223.25" fill="none" stroke="#161616" stroke-width="0.75" stroke-linejoin="round" />
<polyline points="296.5,221.6 313.5,221.6 319.2,221.6 334.3,223 349.4,223 364.8,223 376,223 410,223 441.5,222.6 456.6,223 470.6,224.3 483.2,224.3 490.7,224.3 505.9,225.2 524.8,225.8 534,226 559,226 578,225.6 593,225.6 614.3,226" fill="none" stroke="#161616" stroke-width="0.75" stroke-linejoin="round" />
<polyline points="505.9,227.03 524.8,227.95 534,228.21 559,228.4 578,227.51 593,227.57 614.3,228.47" fill="none" stroke="#161616" stroke-width="0.75" stroke-linejoin="round" />
<polyline points="441.5,223.45 456.6,224.18 470.6,225.55 483.2,225.48 490.7,225.48 505.9,229.31 524.8,230.64 534,230.96 559,231.4 578,229.9 593,230.04 614.3,231.55" fill="none" stroke="#161616" stroke-width="0.75" stroke-linejoin="round" />
<polyline points="505.9,231.6 524.8,233.34 534,233.73 559,234.43 578,232.3 593,232.52 614.3,234.65" fill="none" stroke="#161616" stroke-width="0.75" stroke-linejoin="round" />
<polyline points="296.5,224.7 313.5,225.3 319.2,224.8 334.3,223.65 349.4,223.65 364.8,223.75 376,223.95 410,223.95 441.5,224.4 456.6,225.5 470.6,226.95 483.2,226.8 490.7,226.8 505.9,233.9 524.8,236.05 534,236.5 559,237.45 578,234.7 593,235 614.3,237.75" fill="none" stroke="#161616" stroke-width="0.75" stroke-linejoin="round" />
<polyline points="505.9,236.68 524.8,239.33 534,239.86 559,241.11 578,237.61 593,238.01 614.3,241.51" fill="none" stroke="#161616" stroke-width="0.75" stroke-linejoin="round" />
<polyline points="470.6,228.7 483.2,228.45 490.7,228.45 505.9,239.64 524.8,242.81 534,243.43 559,245.01 578,240.71 593,241.2 614.3,245.5" fill="none" stroke="#161616" stroke-width="0.75" stroke-linejoin="round" />
<polyline points="296.5,227.8 313.5,229 319.2,228 334.3,224.3 349.4,224.3 364.8,224.5 376,224.9 410,224.9 441.5,226.2 456.6,228 470.6,229.6 483.2,229.3 490.7,229.3 505.9,242.6 524.8,246.3 534,247 559,248.9 578,243.8 593,244.4 614.3,249.5" fill="none" stroke="#161616" stroke-width="0.75" stroke-linejoin="round" />
<polyline points="505.9,246.2 524.8,248.85 534,249.5 559,251.7 578,246.95 593,247.55 614.3,252" fill="none" stroke="#161616" stroke-width="0.75" stroke-linejoin="round" />
<polyline points="296.5,230.6 313.5,231.6 319.2,230.8 334.3,228.7 349.4,228.5 364.8,229 376,229.6 410,229.6 441.5,230.6 456.6,231.6 470.6,233.6 483.2,232.6 490.7,232.6 505.9,249.8 524.8,251.4 534,252 559,254.5 578,250.1 593,250.7 614.3,254.5" fill="none" stroke="#161616" stroke-width="0.75" stroke-linejoin="round" />
<polyline points="470.6,235 483.2,234 490.7,234.2 505.9,253.3 524.8,255.8 534,255.8 559,258.3 578,252.6 593,254.5 614.3,259.6" fill="none" stroke="#161616" stroke-width="0.75" stroke-linejoin="round" />
<polyline points="490.7,236 496,246 505.9,259.6 524.8,260.2 534,260.2 559,265.2 568,261 578,257.5 593,259.5 614.3,263.5" fill="none" stroke="#161616" stroke-width="0.75" stroke-linejoin="round" />
<polyline points="296.5,229.6 313.5,231.2 319.2,230 334.3,229.3 364,229.7 376,230 388.6,232.5 401.2,234.4 425.1,235.6 435.2,239.4 441.5,241.9 451.6,240 456.6,238.8 459.1,241.9 462,244.4 468.1,247 483.2,243.2 489.5,242.6 495.8,254.5 502.1,265.9 505.9,268.4 521,271.6 533.6,274.1 559.2,276 578.1,274.7 614.2,273.4" fill="none" stroke="#1c1c1c" stroke-width="1" stroke-linejoin="round" />
<polyline points="296.5,255.2 306.6,256.8 319.2,258.3 331.8,258 341.9,255.8 349.4,254.1 357,255.8 369.6,258.3 380,260.2 388,263.5 394.9,266.5 411.3,267.8 423.9,269.7 432.7,273.4 441.5,277.2 455.3,277.2 466.1,289.4 471.5,280.5 480.7,284.2 490.7,289.8 498.3,298.6 505.9,306.8 511,311.5 519.7,315 533.6,315.7 546.6,313.8 559.2,311.9 578.1,313.8 584.4,308.1 593.2,305.6 614.2,303" fill="none" stroke="#1c1c1c" stroke-width="1" stroke-linejoin="round" />
<line x1="302.3" y1="221.5" x2="302.3" y2="231.5" stroke="#d8d8d8" stroke-width="0.9" opacity="0.8"/>
<line x1="302.3" y1="231.5" x2="302.3" y2="280.5" stroke="#d0d0d0" stroke-width="0.9" stroke-dasharray="1.1,2.3" opacity="0.7"/>
<line x1="302.3" y1="280.5" x2="302.3" y2="382.5" stroke="#c4c4c4" stroke-width="0.9" stroke-dasharray="1.1,4.2" opacity="0.75"/>
<line x1="313.5" y1="221.5" x2="313.5" y2="231.5" stroke="#d8d8d8" stroke-width="0.9" opacity="0.8"/>
<line x1="313.5" y1="231.5" x2="313.5" y2="280.5" stroke="#d0d0d0" stroke-width="0.9" stroke-dasharray="1.1,2.3" opacity="0.7"/>
<line x1="313.5" y1="280.5" x2="313.5" y2="382.5" stroke="#c4c4c4" stroke-width="0.9" stroke-dasharray="1.1,4.2" opacity="0.75"/>
<line x1="319.2" y1="221.5" x2="319.2" y2="231.5" stroke="#d8d8d8" stroke-width="0.9" opacity="0.8"/>
<line x1="319.2" y1="231.5" x2="319.2" y2="280.5" stroke="#d0d0d0" stroke-width="0.9" stroke-dasharray="1.1,2.3" opacity="0.7"/>
<line x1="319.2" y1="280.5" x2="319.2" y2="382.5" stroke="#c4c4c4" stroke-width="0.9" stroke-dasharray="1.1,4.2" opacity="0.75"/>
<line x1="334.3" y1="221.5" x2="334.3" y2="231.5" stroke="#d8d8d8" stroke-width="0.9" opacity="0.8"/>
<line x1="334.3" y1="231.5" x2="334.3" y2="280.5" stroke="#d0d0d0" stroke-width="0.9" stroke-dasharray="1.1,2.3" opacity="0.7"/>
<line x1="334.3" y1="280.5" x2="334.3" y2="382.5" stroke="#c4c4c4" stroke-width="0.9" stroke-dasharray="1.1,4.2" opacity="0.75"/>
<line x1="349.4" y1="221.5" x2="349.4" y2="231.5" stroke="#d8d8d8" stroke-width="0.9" opacity="0.8"/>
<line x1="349.4" y1="231.5" x2="349.4" y2="280.5" stroke="#d0d0d0" stroke-width="0.9" stroke-dasharray="1.1,2.3" opacity="0.7"/>
<line x1="349.4" y1="280.5" x2="349.4" y2="382.5" stroke="#c4c4c4" stroke-width="0.9" stroke-dasharray="1.1,4.2" opacity="0.75"/>
<line x1="358.2" y1="221.5" x2="358.2" y2="231.5" stroke="#d8d8d8" stroke-width="0.9" opacity="0.8"/>
<line x1="358.2" y1="231.5" x2="358.2" y2="280.5" stroke="#d0d0d0" stroke-width="0.9" stroke-dasharray="1.1,2.3" opacity="0.7"/>
<line x1="358.2" y1="280.5" x2="358.2" y2="382.5" stroke="#c4c4c4" stroke-width="0.9" stroke-dasharray="1.1,4.2" opacity="0.75"/>
<line x1="364.8" y1="221.5" x2="364.8" y2="231.5" stroke="#d8d8d8" stroke-width="0.9" opacity="0.8"/>
<line x1="364.8" y1="231.5" x2="364.8" y2="280.5" stroke="#d0d0d0" stroke-width="0.9" stroke-dasharray="1.1,2.3" opacity="0.7"/>
<line x1="364.8" y1="280.5" x2="364.8" y2="382.5" stroke="#c4c4c4" stroke-width="0.9" stroke-dasharray="1.1,4.2" opacity="0.75"/>
<line x1="380.4" y1="221.5" x2="380.4" y2="231.5" stroke="#d8d8d8" stroke-width="0.9" opacity="0.8"/>
<line x1="380.4" y1="231.5" x2="380.4" y2="280.5" stroke="#d0d0d0" stroke-width="0.9" stroke-dasharray="1.1,2.3" opacity="0.7"/>
<line x1="380.4" y1="280.5" x2="380.4" y2="382.5" stroke="#c4c4c4" stroke-width="0.9" stroke-dasharray="1.1,4.2" opacity="0.75"/>
<line x1="395.5" y1="221.5" x2="395.5" y2="231.5" stroke="#d8d8d8" stroke-width="0.9" opacity="0.8"/>
<line x1="395.5" y1="231.5" x2="395.5" y2="280.5" stroke="#d0d0d0" stroke-width="0.9" stroke-dasharray="1.1,2.3" opacity="0.7"/>
<line x1="395.5" y1="280.5" x2="395.5" y2="382.5" stroke="#c4c4c4" stroke-width="0.9" stroke-dasharray="1.1,4.2" opacity="0.75"/>
<line x1="410.6" y1="221.5" x2="410.6" y2="231.5" stroke="#d8d8d8" stroke-width="0.9" opacity="0.8"/>
<line x1="410.6" y1="231.5" x2="410.6" y2="280.5" stroke="#d0d0d0" stroke-width="0.9" stroke-dasharray="1.1,2.3" opacity="0.7"/>
<line x1="410.6" y1="280.5" x2="410.6" y2="382.5" stroke="#c4c4c4" stroke-width="0.9" stroke-dasharray="1.1,4.2" opacity="0.75"/>
<line x1="425.7" y1="221.5" x2="425.7" y2="231.5" stroke="#d8d8d8" stroke-width="0.9" opacity="0.8"/>
<line x1="425.7" y1="231.5" x2="425.7" y2="280.5" stroke="#d0d0d0" stroke-width="0.9" stroke-dasharray="1.1,2.3" opacity="0.7"/>
<line x1="425.7" y1="280.5" x2="425.7" y2="382.5" stroke="#c4c4c4" stroke-width="0.9" stroke-dasharray="1.1,4.2" opacity="0.75"/>
<line x1="441.5" y1="221.5" x2="441.5" y2="231.5" stroke="#d8d8d8" stroke-width="0.9" opacity="0.8"/>
<line x1="441.5" y1="231.5" x2="441.5" y2="280.5" stroke="#d0d0d0" stroke-width="0.9" stroke-dasharray="1.1,2.3" opacity="0.7"/>
<line x1="441.5" y1="280.5" x2="441.5" y2="382.5" stroke="#c4c4c4" stroke-width="0.9" stroke-dasharray="1.1,4.2" opacity="0.75"/>
<line x1="456.6" y1="220.5" x2="456.6" y2="236.5" stroke="#555" stroke-width="1.1"/>
<line x1="456.6" y1="236.5" x2="456.6" y2="382.5" stroke="#444" stroke-width="1.4" stroke-dasharray="1.4,3.9"/>
<line x1="467.4" y1="221.5" x2="467.4" y2="231.5" stroke="#d8d8d8" stroke-width="0.9" opacity="0.8"/>
<line x1="467.4" y1="231.5" x2="467.4" y2="280.5" stroke="#d0d0d0" stroke-width="0.9" stroke-dasharray="1.1,2.3" opacity="0.7"/>
<line x1="467.4" y1="280.5" x2="467.4" y2="382.5" stroke="#c4c4c4" stroke-width="0.9" stroke-dasharray="1.1,4.2" opacity="0.75"/>
<line x1="471.9" y1="221.5" x2="471.9" y2="231.5" stroke="#d8d8d8" stroke-width="0.9" opacity="0.8"/>
<line x1="471.9" y1="231.5" x2="471.9" y2="280.5" stroke="#d0d0d0" stroke-width="0.9" stroke-dasharray="1.1,2.3" opacity="0.7"/>
<line x1="471.9" y1="280.5" x2="471.9" y2="382.5" stroke="#c4c4c4" stroke-width="0.9" stroke-dasharray="1.1,4.2" opacity="0.75"/>
<line x1="483.2" y1="221.5" x2="483.2" y2="231.5" stroke="#d8d8d8" stroke-width="0.9" opacity="0.8"/>
<line x1="483.2" y1="231.5" x2="483.2" y2="280.5" stroke="#d0d0d0" stroke-width="0.9" stroke-dasharray="1.1,2.3" opacity="0.7"/>
<line x1="483.2" y1="280.5" x2="483.2" y2="382.5" stroke="#c4c4c4" stroke-width="0.9" stroke-dasharray="1.1,4.2" opacity="0.75"/>
<line x1="490.7" y1="220.5" x2="490.7" y2="236.5" stroke="#555" stroke-width="1.1"/>
<line x1="490.7" y1="236.5" x2="490.7" y2="382.5" stroke="#444" stroke-width="1.4" stroke-dasharray="1.4,3.9"/>
<line x1="505.9" y1="220.5" x2="505.9" y2="236.5" stroke="#555" stroke-width="1.1"/>
<line x1="505.9" y1="236.5" x2="505.9" y2="382.5" stroke="#444" stroke-width="1.4" stroke-dasharray="1.4,3.9"/>
<line x1="524.8" y1="221.5" x2="524.8" y2="231.5" stroke="#d8d8d8" stroke-width="0.9" opacity="0.8"/>
<line x1="524.8" y1="231.5" x2="524.8" y2="280.5" stroke="#d0d0d0" stroke-width="0.9" stroke-dasharray="1.1,2.3" opacity="0.7"/>
<line x1="524.8" y1="280.5" x2="524.8" y2="382.5" stroke="#c4c4c4" stroke-width="0.9" stroke-dasharray="1.1,4.2" opacity="0.75"/>
<line x1="547.2" y1="221.5" x2="547.2" y2="231.5" stroke="#d8d8d8" stroke-width="0.9" opacity="0.8"/>
<line x1="547.2" y1="231.5" x2="547.2" y2="280.5" stroke="#d0d0d0" stroke-width="0.9" stroke-dasharray="1.1,2.3" opacity="0.7"/>
<line x1="547.2" y1="280.5" x2="547.2" y2="382.5" stroke="#c4c4c4" stroke-width="0.9" stroke-dasharray="1.1,4.2" opacity="0.75"/>
<line x1="559.2" y1="221.5" x2="559.2" y2="231.5" stroke="#d8d8d8" stroke-width="0.9" opacity="0.8"/>
<line x1="559.2" y1="231.5" x2="559.2" y2="280.5" stroke="#d0d0d0" stroke-width="0.9" stroke-dasharray="1.1,2.3" opacity="0.7"/>
<line x1="559.2" y1="280.5" x2="559.2" y2="382.5" stroke="#c4c4c4" stroke-width="0.9" stroke-dasharray="1.1,4.2" opacity="0.75"/>
<line x1="578.1" y1="221.5" x2="578.1" y2="231.5" stroke="#d8d8d8" stroke-width="0.9" opacity="0.8"/>
<line x1="578.1" y1="231.5" x2="578.1" y2="280.5" stroke="#d0d0d0" stroke-width="0.9" stroke-dasharray="1.1,2.3" opacity="0.7"/>
<line x1="578.1" y1="280.5" x2="578.1" y2="382.5" stroke="#c4c4c4" stroke-width="0.9" stroke-dasharray="1.1,4.2" opacity="0.75"/>
<line x1="593.2" y1="221.5" x2="593.2" y2="231.5" stroke="#d8d8d8" stroke-width="0.9" opacity="0.8"/>
<line x1="593.2" y1="231.5" x2="593.2" y2="280.5" stroke="#d0d0d0" stroke-width="0.9" stroke-dasharray="1.1,2.3" opacity="0.7"/>
<line x1="593.2" y1="280.5" x2="593.2" y2="382.5" stroke="#c4c4c4" stroke-width="0.9" stroke-dasharray="1.1,4.2" opacity="0.75"/>
<line x1="608.9" y1="221.5" x2="608.9" y2="231.5" stroke="#d8d8d8" stroke-width="0.9" opacity="0.8"/>
<line x1="608.9" y1="231.5" x2="608.9" y2="280.5" stroke="#d0d0d0" stroke-width="0.9" stroke-dasharray="1.1,2.3" opacity="0.7"/>
<line x1="608.9" y1="280.5" x2="608.9" y2="382.5" stroke="#c4c4c4" stroke-width="0.9" stroke-dasharray="1.1,4.2" opacity="0.75"/>
<polygon points="296.5,282.9 298.4,295.5 300.3,310 302.8,315 304.7,319.4 307.2,321.3 310.4,319.4 312.9,316.9 314.8,322 317.3,327.6 320.4,332 324.2,335.8 326.1,340.9 328,338.3 330.5,341.5 332.4,344.6 335.6,347.8 338.1,350.9 341.9,352.8 346.9,356 351.9,357.9 359.5,359.1 364.5,360 369.3,361.1 378.1,360.4 385.2,362.5 395.7,361.6 402.8,360.8 405.3,363.4 410.6,366.9 417.6,367.8 422.9,367.5 435.2,368.7 452.9,369.2 461.7,369.9 467.8,368.7 469.6,374 471.4,360.8 473.1,355.5 474.9,368.7 476.7,355.5 478.4,369.6 481.3,349 483.2,342.7 485.1,346.5 488.9,332.7 492,342.7 495.2,351.6 499.6,332 501.5,345.3 503.1,378.4 506.5,322.6 508.4,333.9 511.5,347.8 513.4,327.6 515.3,349 517,374 519.7,345 521.6,317.6 523.5,326.4 525.4,330.2 527.3,320.1 529.2,335.2 531.4,357.2 534.2,342.1 537.6,363.4 542.9,348.4 547.2,326.4 549.7,343 551.7,335 554.3,352 556.4,343.5 559.6,356.5 563.1,362.5 565.3,375.7 567.6,361.6 570.2,365.2 572.8,359.9 575.5,363.4 578.1,359.9 580.8,367.8 586.9,358.1 592.2,376.6 594.9,366.9 598.2,346.5 600.1,351.6 602,341.5 603.9,349 605.8,344 608.3,352.8 610.8,349 614.3,341.5 614.3,382.5 296.5,382.5" fill="#b3b3b3" />
<text x="372.3" y="378.7" text-anchor="middle" style="fill:#ededed;font-size:11px">Section 2</text>
</g>
<rect x="296.5" y="13.4" width="317.8" height="161.9" fill="none" stroke="#222" stroke-width="1"/>
<rect x="296.5" y="220.5" width="317.8" height="162" fill="none" stroke="#222" stroke-width="1"/>
<line x1="296.5" x2="299.5" y1="13.3" y2="13.3" stroke="#222" stroke-width="0.8"/>
<line x1="614.3" x2="611.3" y1="13.3" y2="13.3" stroke="#222" stroke-width="0.8"/>
<text x="291.6" y="16.6" text-anchor="end" class="ax">0</text>
<line x1="296.5" x2="299.5" y1="67.3" y2="67.3" stroke="#222" stroke-width="0.8"/>
<line x1="614.3" x2="611.3" y1="67.3" y2="67.3" stroke="#222" stroke-width="0.8"/>
<text x="291.6" y="70.6" text-anchor="end" class="ax">2000</text>
<line x1="296.5" x2="299.5" y1="121.3" y2="121.3" stroke="#222" stroke-width="0.8"/>
<line x1="614.3" x2="611.3" y1="121.3" y2="121.3" stroke="#222" stroke-width="0.8"/>
<text x="291.6" y="124.6" text-anchor="end" class="ax">4000</text>
<line x1="296.5" x2="299.5" y1="175.3" y2="175.3" stroke="#222" stroke-width="0.8"/>
<line x1="614.3" x2="611.3" y1="175.3" y2="175.3" stroke="#222" stroke-width="0.8"/>
<text x="291.6" y="178.6" text-anchor="end" class="ax">6000</text>
<text transform="translate(256.3,92.3) rotate(-90)" text-anchor="middle" class="ax">Depth (m)</text>
<line x1="296.5" x2="299.5" y1="220.5" y2="220.5" stroke="#222" stroke-width="0.8"/>
<line x1="614.3" x2="611.3" y1="220.5" y2="220.5" stroke="#222" stroke-width="0.8"/>
<text x="291.6" y="223.8" text-anchor="end" class="ax">0</text>
<line x1="296.5" x2="299.5" y1="274.5" y2="274.5" stroke="#222" stroke-width="0.8"/>
<line x1="614.3" x2="611.3" y1="274.5" y2="274.5" stroke="#222" stroke-width="0.8"/>
<text x="291.6" y="277.8" text-anchor="end" class="ax">2000</text>
<line x1="296.5" x2="299.5" y1="328.5" y2="328.5" stroke="#222" stroke-width="0.8"/>
<line x1="614.3" x2="611.3" y1="328.5" y2="328.5" stroke="#222" stroke-width="0.8"/>
<text x="291.6" y="331.8" text-anchor="end" class="ax">4000</text>
<line x1="296.5" x2="299.5" y1="382.5" y2="382.5" stroke="#222" stroke-width="0.8"/>
<line x1="614.3" x2="611.3" y1="382.5" y2="382.5" stroke="#222" stroke-width="0.8"/>
<text x="291.6" y="385.8" text-anchor="end" class="ax">6000</text>
<text transform="translate(256.3,299.5) rotate(-90)" text-anchor="middle" class="ax">Depth (m)</text>
<line x1="320.7" x2="320.7" y1="175.3" y2="172.3" stroke="#222" stroke-width="0.8"/>
<text x="320.7" y="188.6" text-anchor="middle" class="ax">15°E</text>
<line x1="380.7" x2="380.7" y1="175.3" y2="172.3" stroke="#222" stroke-width="0.8"/>
<text x="380.7" y="188.6" text-anchor="middle" class="ax">20°E</text>
<line x1="440.6" x2="440.6" y1="175.3" y2="172.3" stroke="#222" stroke-width="0.8"/>
<text x="440.6" y="188.6" text-anchor="middle" class="ax">25°E</text>
<line x1="500.6" x2="500.6" y1="175.3" y2="172.3" stroke="#222" stroke-width="0.8"/>
<text x="500.6" y="188.6" text-anchor="middle" class="ax">30°E</text>
<line x1="560.4" x2="560.4" y1="175.3" y2="172.3" stroke="#222" stroke-width="0.8"/>
<text x="560.4" y="188.6" text-anchor="middle" class="ax">35°E</text>
<line x1="342.3" x2="342.3" y1="382.5" y2="379.5" stroke="#222" stroke-width="0.8"/>
<text x="342.3" y="396.6" text-anchor="middle" class="ax">65°S</text>
<line x1="399.6" x2="399.6" y1="382.5" y2="379.5" stroke="#222" stroke-width="0.8"/>
<text x="399.6" y="396.6" text-anchor="middle" class="ax">60°S</text>
<line x1="456.9" x2="456.9" y1="382.5" y2="379.5" stroke="#222" stroke-width="0.8"/>
<text x="456.9" y="396.6" text-anchor="middle" class="ax">55°S</text>
<line x1="514.2" x2="514.2" y1="382.5" y2="379.5" stroke="#222" stroke-width="0.8"/>
<text x="514.2" y="396.6" text-anchor="middle" class="ax">50°S</text>
<line x1="571.5" x2="571.5" y1="382.5" y2="379.5" stroke="#222" stroke-width="0.8"/>
<text x="571.5" y="396.6" text-anchor="middle" class="ax">45°S</text>
<rect x="624.2" y="13.7" width="21.4" height="10.35" fill="#9c0000"/>
<rect x="624.2" y="23.75" width="21.4" height="10.35" fill="#d00000"/>
<rect x="624.2" y="33.8" width="21.4" height="10.35" fill="#ff0000"/>
<rect x="624.2" y="43.85" width="21.4" height="10.35" fill="#ff4800"/>
<rect x="624.2" y="53.9" width="21.4" height="10.35" fill="#ff9000"/>
<rect x="624.2" y="63.95" width="21.4" height="10.35" fill="#ffc400"/>
<rect x="624.2" y="74" width="21.4" height="10.35" fill="#ffec00"/>
<rect x="624.2" y="84.05" width="21.4" height="10.35" fill="#ffff50"/>
<rect x="624.2" y="94.1" width="21.4" height="10.35" fill="#c8ffff"/>
<rect x="624.2" y="104.15" width="21.4" height="10.35" fill="#a6f2ff"/>
<rect x="624.2" y="114.2" width="21.4" height="10.35" fill="#88e0ff"/>
<rect x="624.2" y="124.25" width="21.4" height="10.35" fill="#6cc4ff"/>
<rect x="624.2" y="134.3" width="21.4" height="10.35" fill="#55a8ff"/>
<rect x="624.2" y="144.35" width="21.4" height="10.35" fill="#3c88ff"/>
<rect x="624.2" y="154.4" width="21.4" height="10.35" fill="#2046ff"/>
<rect x="624.2" y="164.45" width="21.4" height="10.35" fill="#0a0ad6"/>
<rect x="624.2" y="13.7" width="21.4" height="160.8" fill="none" stroke="#222" stroke-width="1"/>
<line x1="645.6" x2="643.6" y1="164.45" y2="164.45" stroke="#222" stroke-width="0.7"/>
<text x="649.6" y="167.45" class="cbl">−2</text>
<line x1="645.6" x2="643.6" y1="144.35" y2="144.35" stroke="#222" stroke-width="0.7"/>
<text x="650.6" y="147.35" class="cbl">0</text>
<line x1="645.6" x2="643.6" y1="124.25" y2="124.25" stroke="#222" stroke-width="0.7"/>
<text x="650.6" y="127.25" class="cbl">2</text>
<line x1="645.6" x2="643.6" y1="104.15" y2="104.15" stroke="#222" stroke-width="0.7"/>
<text x="650.6" y="107.15" class="cbl">4</text>
<line x1="645.6" x2="643.6" y1="84.05" y2="84.05" stroke="#222" stroke-width="0.7"/>
<text x="650.6" y="87.05" class="cbl">6</text>
<line x1="645.6" x2="643.6" y1="63.95" y2="63.95" stroke="#222" stroke-width="0.7"/>
<text x="650.6" y="66.95" class="cbl">8</text>
<line x1="645.6" x2="643.6" y1="43.85" y2="43.85" stroke="#222" stroke-width="0.7"/>
<text x="650.6" y="46.85" class="cbl">10</text>
<line x1="645.6" x2="643.6" y1="23.75" y2="23.75" stroke="#222" stroke-width="0.7"/>
<text x="650.6" y="26.75" class="cbl">12</text>
<text transform="translate(681.3,94.4) rotate(-90)" text-anchor="middle" class="ax"><tspan font-style="italic">δ</tspan><tspan dy="-4" style="font-size:8px">3</tspan><tspan dy="4">He (%)</tspan></text>
<rect x="624.2" y="221.2" width="21.4" height="10.35" fill="#9c0000"/>
<rect x="624.2" y="231.25" width="21.4" height="10.35" fill="#d00000"/>
<rect x="624.2" y="241.3" width="21.4" height="10.35" fill="#ff0000"/>
<rect x="624.2" y="251.35" width="21.4" height="10.35" fill="#ff4800"/>
<rect x="624.2" y="261.4" width="21.4" height="10.35" fill="#ff9000"/>
<rect x="624.2" y="271.45" width="21.4" height="10.35" fill="#ffc400"/>
<rect x="624.2" y="281.5" width="21.4" height="10.35" fill="#ffec00"/>
<rect x="624.2" y="291.55" width="21.4" height="10.35" fill="#ffff50"/>
<rect x="624.2" y="301.6" width="21.4" height="10.35" fill="#c8ffff"/>
<rect x="624.2" y="311.65" width="21.4" height="10.35" fill="#a6f2ff"/>
<rect x="624.2" y="321.7" width="21.4" height="10.35" fill="#88e0ff"/>
<rect x="624.2" y="331.75" width="21.4" height="10.35" fill="#6cc4ff"/>
<rect x="624.2" y="341.8" width="21.4" height="10.35" fill="#55a8ff"/>
<rect x="624.2" y="351.85" width="21.4" height="10.35" fill="#3c88ff"/>
<rect x="624.2" y="361.9" width="21.4" height="10.35" fill="#2046ff"/>
<rect x="624.2" y="371.95" width="21.4" height="10.35" fill="#0a0ad6"/>
<rect x="624.2" y="221.2" width="21.4" height="160.8" fill="none" stroke="#222" stroke-width="1"/>
<line x1="645.6" x2="643.6" y1="371.95" y2="371.95" stroke="#222" stroke-width="0.7"/>
<text x="649.6" y="374.95" class="cbl">−2</text>
<line x1="645.6" x2="643.6" y1="351.85" y2="351.85" stroke="#222" stroke-width="0.7"/>
<text x="650.6" y="354.85" class="cbl">0</text>
<line x1="645.6" x2="643.6" y1="331.75" y2="331.75" stroke="#222" stroke-width="0.7"/>
<text x="650.6" y="334.75" class="cbl">2</text>
<line x1="645.6" x2="643.6" y1="311.65" y2="311.65" stroke="#222" stroke-width="0.7"/>
<text x="650.6" y="314.65" class="cbl">4</text>
<line x1="645.6" x2="643.6" y1="291.55" y2="291.55" stroke="#222" stroke-width="0.7"/>
<text x="650.6" y="294.55" class="cbl">6</text>
<line x1="645.6" x2="643.6" y1="271.45" y2="271.45" stroke="#222" stroke-width="0.7"/>
<text x="650.6" y="274.45" class="cbl">8</text>
<line x1="645.6" x2="643.6" y1="251.35" y2="251.35" stroke="#222" stroke-width="0.7"/>
<text x="650.6" y="254.35" class="cbl">10</text>
<line x1="645.6" x2="643.6" y1="231.25" y2="231.25" stroke="#222" stroke-width="0.7"/>
<text x="650.6" y="234.25" class="cbl">12</text>
<text transform="translate(681.3,301.9) rotate(-90)" text-anchor="middle" class="ax"><tspan font-style="italic">δ</tspan><tspan dy="-4" style="font-size:8px">3</tspan><tspan dy="4">He (%)</tspan></text>
<text class="b" x="0" y="71.5">a</text>
<text class="b" x="246.2" y="11.8">b</text>
<text class="b" x="246.8" y="220">c</text>
</svg>
</body></html>
